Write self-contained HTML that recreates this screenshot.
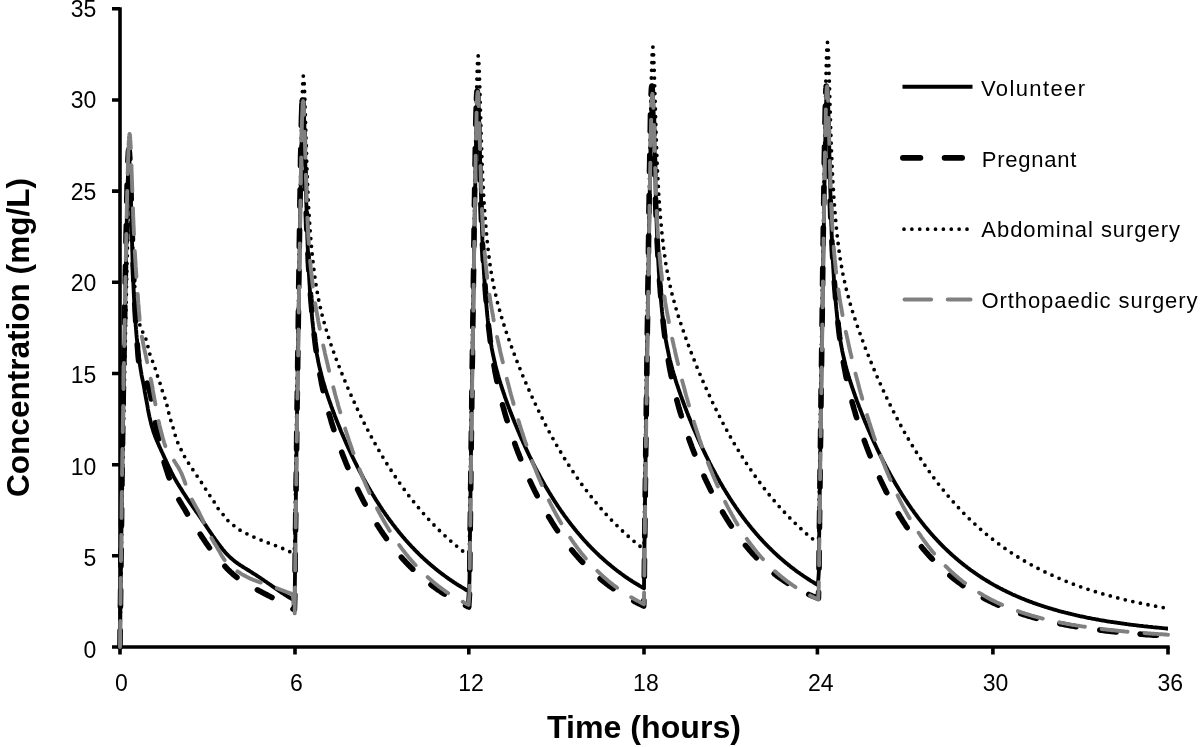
<!DOCTYPE html>
<html><head><meta charset="utf-8"><title>Concentration vs time</title>
<style>
html,body{margin:0;padding:0;background:#fff;}
body{width:1200px;height:747px;overflow:hidden;}
svg{display:block;}
.tl{font-family:"Liberation Sans", Arial, sans-serif;font-size:23px;fill:#000;}
.lg{font-family:"Liberation Sans", Arial, sans-serif;font-size:22px;fill:#000;}
.at{font-family:"Liberation Sans", Arial, sans-serif;font-size:31px;font-weight:bold;fill:#000;}
</style></head><body>
<svg width="1200" height="747" viewBox="0 0 1200 747">
<rect width="1200" height="747" fill="#fff"/>
<path d="M120 7.2V647H1169.7" fill="none" stroke="#000" stroke-width="3.6" stroke-linejoin="miter"/>
<path d="M112 647.0H120M112 555.8H120M112 464.7H120M112 373.5H120M112 282.3H120M112 191.1H120M112 100.0H120M112 8.8H120M120.0 647V654.6M295.0 647V654.6M468.8 647V654.6M644.0 647V654.6M817.4 647V654.6M992.9 647V654.6M1168.0 647V654.6" stroke="#000" stroke-width="3.6" fill="none"/>
<text x="96.3" y="657.6" text-anchor="end" class="tl">0</text>
<text x="96.3" y="566.1" text-anchor="end" class="tl">5</text>
<text x="96.3" y="474.5" text-anchor="end" class="tl">10</text>
<text x="96.3" y="383.0" text-anchor="end" class="tl">15</text>
<text x="96.3" y="291.4" text-anchor="end" class="tl">20</text>
<text x="96.3" y="199.9" text-anchor="end" class="tl">25</text>
<text x="96.3" y="108.4" text-anchor="end" class="tl">30</text>
<text x="96.3" y="16.8" text-anchor="end" class="tl">35</text>
<text x="121.5" y="690.6" text-anchor="middle" class="tl">0</text>
<text x="296.3" y="690.6" text-anchor="middle" class="tl">6</text>
<text x="471.1" y="690.6" text-anchor="middle" class="tl">12</text>
<text x="645.9" y="690.6" text-anchor="middle" class="tl">18</text>
<text x="820.7" y="690.6" text-anchor="middle" class="tl">24</text>
<text x="995.5" y="690.6" text-anchor="middle" class="tl">30</text>
<text x="1170.3" y="690.6" text-anchor="middle" class="tl">36</text>
<path d="M120.0 647.0L120.1 634.5L120.3 622.0L120.4 609.5L120.6 596.9L120.7 584.4L120.9 572.8L121.0 561.5L121.2 550.2L121.3 538.8L121.5 527.5L121.6 516.7L121.7 506.4L121.9 495.5L122.0 485.0L122.2 475.0L122.3 465.6L122.5 456.9L122.6 448.4L122.8 440.2L122.9 432.2L123.1 424.4L123.2 416.9L123.3 409.5L123.5 402.2L123.6 394.1L123.8 386.0L123.9 377.8L124.1 369.7L124.2 361.5L124.4 353.3L124.5 345.2L124.7 337.0L124.8 328.9L124.9 320.7L125.1 312.5L125.2 304.4L125.4 296.3L125.5 288.2L125.7 280.1L125.8 272.1L126.0 264.2L126.1 256.3L126.3 248.5L126.4 240.9L126.5 233.3L126.7 226.0L126.8 218.9L127.0 212.0L127.1 205.3L127.3 199.0L127.4 193.0L127.6 187.4L127.7 182.2L127.9 177.5L128.0 173.2L128.2 169.5L128.3 166.3L128.4 163.6L128.6 161.5L128.7 160.1L129.0 158.9L129.3 160.2L129.5 161.7L129.6 163.7L129.8 166.2L129.9 169.3L130.0 172.7L130.2 176.6L130.3 180.9L130.5 185.4L130.6 190.3L130.8 195.3L130.9 200.5L131.1 205.9L131.2 211.4L131.4 216.9L131.5 222.4L131.6 227.9L131.8 233.3L131.9 238.6L132.1 243.8L132.2 248.9L132.4 253.9L132.5 258.7L132.7 263.3L132.8 267.8L133.0 272.0L133.1 276.1L133.2 280.0L133.4 283.8L133.5 287.4L133.7 290.8L133.8 294.0L134.0 297.1L134.1 300.1L134.3 302.9L134.4 305.6L134.6 308.2L134.7 310.7L134.8 313.1L135.0 315.4L135.1 317.6L135.3 319.7L135.4 321.7L135.6 323.7L135.7 325.6L135.9 327.4L136.0 329.2L136.2 330.9L136.3 332.6L136.4 334.2L136.6 335.8L136.7 337.4L136.9 338.9L137.0 340.3L137.2 341.8L137.3 343.1L137.5 344.5L137.6 346.0L137.8 347.4L137.9 348.8L138.0 350.1L138.2 351.4L138.3 352.7L138.5 353.9L138.6 355.2L138.8 356.4L138.9 357.5L139.1 358.7L139.2 359.8L139.4 360.9L139.5 361.9L139.8 364.0L140.1 366.0L140.4 367.9L140.7 369.8L141.0 371.5L141.3 373.2L141.5 374.8L141.8 376.3L142.1 377.7L142.4 379.1L142.7 380.5L143.0 381.9L143.3 383.4L143.6 384.9L143.9 386.5L144.2 388.1L144.5 389.7L144.7 391.3L145.0 392.9L145.3 394.5L145.6 396.2L145.9 397.8L146.2 399.4L146.5 400.9L146.8 402.6L147.1 404.2L147.4 405.8L147.7 407.5L147.9 409.1L148.2 410.7L148.5 412.2L148.8 413.7L149.1 415.1L149.4 416.6L149.7 417.8L150.0 419.1L150.3 420.3L150.6 421.5L150.9 422.7L151.1 423.8L151.4 424.9L151.7 426.0L152.0 427.0L152.3 428.0L152.6 429.0L152.9 429.9L153.2 430.9L153.6 432.2L154.1 433.5L154.5 434.7L154.9 435.9L155.4 437.0L155.8 438.1L156.2 439.2L156.7 440.2L157.1 441.2L157.6 442.2L158.0 443.2L158.4 444.2L158.9 445.2L159.3 446.2L159.7 447.1L160.2 448.1L160.6 449.1L161.0 450.1L161.5 451.1L161.9 452.0L162.4 453.0L162.8 453.9L163.2 454.9L163.7 455.8L164.1 456.7L164.5 457.7L165.0 458.6L165.4 459.5L165.8 460.5L166.3 461.4L166.7 462.4L167.2 463.3L167.6 464.3L168.0 465.2L168.5 466.1L168.9 467.1L169.3 468.0L169.8 468.9L170.2 469.8L170.7 470.7L171.1 471.6L171.5 472.5L172.0 473.3L172.4 474.2L172.8 475.0L173.3 475.8L173.7 476.6L174.1 477.4L174.6 478.2L175.0 478.9L175.5 479.7L176.0 480.7L176.6 481.7L177.2 482.7L177.8 483.7L178.4 484.6L178.9 485.6L179.5 486.5L180.1 487.5L180.7 488.4L181.3 489.3L181.9 490.3L182.4 491.2L183.0 492.1L183.6 493.0L184.2 493.9L184.8 494.8L185.4 495.7L185.9 496.6L186.5 497.5L187.1 498.4L187.7 499.2L188.3 500.1L188.8 501.0L189.4 501.8L190.0 502.7L190.6 503.5L191.2 504.4L191.8 505.2L192.3 506.0L192.9 506.8L193.5 507.7L194.1 508.5L194.7 509.3L195.3 510.1L195.8 511.0L196.4 511.8L197.0 512.6L197.6 513.4L198.2 514.3L198.7 515.1L199.3 515.9L199.9 516.8L200.5 517.6L201.1 518.5L201.7 519.3L202.2 520.2L202.8 521.1L203.4 522.0L204.0 522.8L204.6 523.7L205.1 524.6L205.7 525.4L206.3 526.3L206.9 527.2L207.5 528.1L208.1 528.9L208.6 529.8L209.2 530.7L209.8 531.5L210.4 532.4L211.0 533.2L211.6 534.1L212.1 534.9L212.7 535.8L213.3 536.6L213.9 537.4L214.5 538.3L215.0 539.1L215.6 539.9L216.2 540.7L216.8 541.5L217.4 542.3L218.0 543.1L218.5 543.9L219.1 544.6L219.7 545.4L220.3 546.2L220.9 546.9L221.5 547.7L222.0 548.4L222.6 549.2L223.2 549.9L223.8 550.6L224.4 551.3L224.9 552.0L225.5 552.7L226.1 553.3L226.7 553.9L227.4 554.7L228.1 555.4L228.9 556.1L229.6 556.8L230.3 557.5L231.1 558.2L231.8 558.8L232.5 559.4L233.2 560.0L234.0 560.6L234.7 561.2L235.4 561.8L236.2 562.3L236.9 562.9L237.6 563.4L238.3 563.9L239.1 564.4L239.8 564.9L240.5 565.4L241.4 565.9L242.3 566.5L243.1 567.0L244.0 567.6L244.9 568.1L245.8 568.6L246.6 569.2L247.5 569.7L248.4 570.3L249.3 570.8L250.1 571.4L251.0 571.9L251.9 572.5L252.7 573.0L253.6 573.6L254.5 574.1L255.4 574.7L256.2 575.2L257.1 575.8L258.0 576.4L258.7 576.8L259.4 577.3L260.2 577.8L260.9 578.3L261.6 578.8L262.4 579.3L263.1 579.8L263.8 580.3L264.5 580.8L265.3 581.3L266.0 581.8L266.7 582.3L267.4 582.8L268.2 583.3L268.9 583.8L269.6 584.3L270.4 584.8L271.1 585.3L271.8 585.9L272.5 586.4L273.3 586.9L274.0 587.4L274.7 587.9L275.5 588.4L276.2 588.9L276.9 589.4L277.6 589.9L278.4 590.4L279.1 590.9L279.8 591.4L280.5 591.9L281.3 592.4L282.0 592.9L282.7 593.4L283.5 593.8L284.2 594.3L285.1 594.9L285.9 595.4L286.8 596.0L287.7 596.5L288.6 597.0L289.4 597.5L290.3 598.0L291.2 598.5L292.0 599.0L292.9 599.6L293.8 600.1L294.7 600.6L294.8 587.8L295.0 575.0L295.1 562.3L295.2 549.5L295.4 536.7L295.5 524.9L295.7 513.3L295.8 501.7L296.0 490.2L296.1 478.6L296.3 467.6L296.4 457.1L296.6 446.7L296.7 436.6L296.8 426.5L297.0 416.9L297.1 407.6L297.3 398.4L297.4 389.2L297.6 380.1L297.7 371.0L297.9 362.1L298.0 353.1L298.2 344.1L298.3 334.7L298.5 325.5L298.6 316.2L298.7 307.0L298.9 297.8L299.0 288.7L299.2 279.6L299.3 270.5L299.5 261.4L299.6 252.4L299.8 243.4L299.9 234.4L300.1 225.5L300.2 216.6L300.3 207.8L300.5 199.2L300.6 190.6L300.8 182.2L300.9 174.0L301.1 166.0L301.2 158.3L301.4 150.9L301.5 143.9L301.7 137.3L301.8 131.2L301.9 125.5L302.1 120.4L302.2 115.9L302.4 112.1L302.5 108.8L302.7 106.3L302.8 104.5L303.0 103.4L303.4 104.3L303.5 105.9L303.7 108.3L303.8 111.2L304.0 114.6L304.1 118.6L304.3 123.0L304.4 127.9L304.6 133.0L304.7 138.5L304.9 144.2L305.0 150.0L305.1 156.0L305.3 162.0L305.4 168.1L305.6 174.2L305.7 180.2L305.9 186.1L306.0 191.9L306.2 197.6L306.3 203.1L306.5 208.4L306.6 213.6L306.7 218.6L306.9 223.5L307.0 228.1L307.2 232.5L307.3 236.8L307.5 240.9L307.6 244.9L307.8 248.6L307.9 252.2L308.1 255.7L308.2 259.1L308.3 262.3L308.5 265.3L308.6 268.3L308.8 271.2L308.9 273.9L309.1 276.6L309.2 279.1L309.4 281.6L309.5 284.0L309.7 286.4L309.8 288.6L309.9 290.8L310.1 293.0L310.2 295.1L310.4 297.1L310.5 299.1L310.7 301.0L310.8 302.9L311.0 304.7L311.1 306.5L311.3 308.2L311.4 309.9L311.6 311.6L311.7 313.2L311.8 314.8L312.0 316.3L312.1 317.8L312.3 319.4L312.4 320.9L312.6 322.3L312.7 323.8L312.9 325.2L313.0 326.5L313.2 327.9L313.3 329.2L313.4 330.5L313.6 331.7L313.7 332.9L313.9 334.1L314.0 335.3L314.2 336.5L314.3 337.6L314.5 338.7L314.6 339.8L314.8 340.9L315.0 342.9L315.3 344.9L315.6 346.8L315.9 348.7L316.2 350.5L316.5 352.2L316.8 353.9L317.1 355.4L317.4 357.0L317.7 358.5L318.0 359.9L318.2 361.4L318.5 362.8L318.8 364.1L319.1 365.5L319.4 366.7L319.7 368.0L320.0 369.2L320.3 370.5L320.6 371.7L320.9 372.8L321.2 374.0L321.4 375.1L321.7 376.2L322.0 377.3L322.3 378.4L322.6 379.4L322.9 380.5L323.2 381.5L323.5 382.5L323.8 383.5L324.1 384.5L324.4 385.5L324.7 386.5L324.9 387.4L325.2 388.4L325.5 389.3L325.8 390.2L326.1 391.1L326.4 392.0L326.8 393.4L327.3 394.7L327.7 396.0L328.1 397.3L328.6 398.6L329.0 399.9L329.5 401.1L329.9 402.4L330.3 403.6L330.8 404.8L331.2 406.1L331.6 407.3L332.1 408.4L332.5 409.6L332.9 410.8L333.4 412.0L333.8 413.1L334.3 414.3L334.7 415.4L335.1 416.5L335.6 417.7L336.0 418.8L336.4 419.9L336.9 421.0L337.3 422.1L337.8 423.2L338.2 424.3L338.6 425.4L339.1 426.4L339.5 427.5L339.9 428.6L340.4 429.6L340.8 430.7L341.2 431.7L341.7 432.8L342.1 433.8L342.6 434.8L343.0 435.8L343.4 436.8L343.9 437.9L344.3 438.9L344.7 439.9L345.2 440.9L345.6 441.8L346.0 442.8L346.5 443.8L346.9 444.8L347.4 445.8L347.8 446.7L348.2 447.7L348.7 448.6L349.1 449.6L349.5 450.5L350.0 451.5L350.4 452.4L350.9 453.3L351.3 454.3L351.7 455.2L352.2 456.1L352.6 457.0L353.0 457.9L353.5 458.8L353.9 459.7L354.3 460.6L354.8 461.5L355.2 462.4L355.7 463.3L356.1 464.2L356.5 465.0L357.0 465.9L357.4 466.8L357.8 467.6L358.3 468.5L358.7 469.3L359.1 470.2L359.6 471.0L360.0 471.8L360.5 472.7L360.9 473.5L361.3 474.3L361.8 475.2L362.2 476.0L362.6 476.8L363.1 477.6L363.5 478.4L364.0 479.2L364.4 480.0L364.8 480.8L365.3 481.6L365.7 482.4L366.1 483.2L366.6 483.9L367.0 484.7L367.4 485.5L367.9 486.2L368.5 487.3L369.0 488.3L369.6 489.3L370.2 490.3L370.8 491.3L371.4 492.2L372.0 493.2L372.5 494.2L373.1 495.1L373.7 496.1L374.3 497.1L374.9 498.0L375.4 498.9L376.0 499.9L376.6 500.8L377.2 501.7L377.8 502.6L378.4 503.5L378.9 504.4L379.5 505.3L380.1 506.2L380.7 507.1L381.3 508.0L381.9 508.9L382.4 509.7L383.0 510.6L383.6 511.4L384.2 512.3L384.8 513.1L385.3 514.0L385.9 514.8L386.5 515.6L387.1 516.4L387.7 517.3L388.3 518.1L388.8 518.9L389.4 519.7L390.0 520.5L390.6 521.3L391.2 522.0L391.8 522.8L392.3 523.6L392.9 524.4L393.5 525.1L394.1 525.9L394.7 526.6L395.2 527.4L395.8 528.1L396.4 528.9L397.0 529.6L397.6 530.3L398.2 531.1L398.7 531.8L399.3 532.5L399.9 533.2L400.5 533.9L401.1 534.6L401.6 535.3L402.2 536.0L402.8 536.7L403.4 537.4L404.0 538.0L404.6 538.7L405.1 539.4L405.7 540.1L406.3 540.7L406.9 541.4L407.5 542.0L408.1 542.7L408.6 543.3L409.2 544.0L409.8 544.6L410.4 545.2L411.0 545.8L411.5 546.5L412.1 547.1L412.9 547.8L413.6 548.6L414.3 549.4L415.0 550.1L415.8 550.9L416.5 551.6L417.2 552.3L418.0 553.0L418.7 553.8L419.4 554.5L420.1 555.2L420.9 555.9L421.6 556.6L422.3 557.3L423.0 557.9L423.8 558.6L424.5 559.3L425.2 560.0L426.0 560.6L426.7 561.3L427.4 561.9L428.1 562.6L428.9 563.2L429.6 563.8L430.3 564.5L431.1 565.1L431.8 565.7L432.5 566.3L433.2 566.9L434.0 567.5L434.7 568.1L435.4 568.7L436.1 569.3L436.9 569.9L437.6 570.5L438.3 571.1L439.1 571.6L439.8 572.2L440.5 572.8L441.2 573.3L442.0 573.9L442.7 574.4L443.4 574.9L444.2 575.5L444.9 576.0L445.6 576.5L446.3 577.1L447.1 577.6L447.8 578.1L448.5 578.6L449.2 579.1L450.0 579.6L450.7 580.1L451.4 580.6L452.2 581.1L452.9 581.6L453.6 582.1L454.3 582.6L455.1 583.0L455.9 583.6L456.8 584.2L457.7 584.7L458.6 585.3L459.4 585.8L460.3 586.3L461.2 586.9L462.1 587.4L462.9 587.9L463.8 588.4L464.7 589.0L465.5 589.5L466.4 590.0L467.3 590.5L468.2 591.0L469.0 591.4L469.5 578.8L469.6 566.0L469.8 553.3L469.9 540.5L470.1 527.7L470.2 515.9L470.4 504.3L470.5 492.7L470.6 481.2L470.8 469.6L470.9 458.6L471.1 448.1L471.2 437.7L471.4 427.5L471.5 417.5L471.7 407.8L471.8 398.6L472.0 389.4L472.1 380.2L472.2 371.1L472.4 362.0L472.5 353.0L472.7 344.0L472.8 335.0L473.0 325.7L473.1 316.4L473.3 307.2L473.4 297.9L473.6 288.8L473.7 279.6L473.8 270.5L474.0 261.4L474.1 252.3L474.3 243.3L474.4 234.3L474.6 225.3L474.7 216.4L474.9 207.5L475.0 198.7L475.2 190.0L475.3 181.5L475.4 173.1L475.6 164.8L475.7 156.9L475.9 149.2L476.0 141.8L476.2 134.8L476.3 128.2L476.5 122.0L476.6 116.4L476.8 111.3L476.9 106.8L477.0 102.9L477.2 99.7L477.3 97.2L477.5 95.4L477.6 94.3L478.1 95.2L478.2 96.9L478.4 99.2L478.5 102.2L478.6 105.7L478.8 109.7L478.9 114.1L479.1 119.0L479.2 124.2L479.4 129.7L479.5 135.4L479.7 141.3L479.8 147.3L480.0 153.3L480.1 159.4L480.2 165.5L480.4 171.6L480.5 177.5L480.7 183.3L480.8 189.0L481.0 194.6L481.1 200.0L481.3 205.2L481.4 210.2L481.6 215.1L481.7 219.7L481.8 224.2L482.0 228.5L482.1 232.6L482.3 236.6L482.4 240.4L482.6 244.0L482.7 247.5L482.9 250.9L483.0 254.1L483.2 257.2L483.3 260.2L483.5 263.1L483.6 265.8L483.7 268.5L483.9 271.1L484.0 273.6L484.2 276.0L484.3 278.4L484.5 280.7L484.6 282.9L484.8 285.0L484.9 287.1L485.1 289.2L485.2 291.2L485.3 293.1L485.5 295.0L485.6 296.8L485.8 298.6L485.9 300.4L486.1 302.1L486.2 303.8L486.4 305.4L486.5 307.0L486.7 308.6L486.8 310.1L486.9 311.6L487.1 313.1L487.2 314.6L487.4 316.1L487.5 317.5L487.7 318.8L487.8 320.2L488.0 321.5L488.1 322.8L488.3 324.1L488.4 325.3L488.5 326.5L488.7 327.7L488.8 328.9L489.0 330.0L489.1 331.1L489.3 332.2L489.4 333.3L489.7 335.4L490.0 337.4L490.3 339.4L490.6 341.2L490.9 343.1L491.2 344.8L491.5 346.5L491.7 348.1L492.0 349.6L492.3 351.1L492.6 352.6L492.9 354.1L493.2 355.5L493.5 356.8L493.8 358.2L494.1 359.5L494.4 360.8L494.7 362.0L494.9 363.3L495.2 364.5L495.5 365.7L495.8 366.8L496.1 368.0L496.4 369.1L496.7 370.2L497.0 371.3L497.3 372.4L497.6 373.4L497.9 374.5L498.2 375.5L498.4 376.5L498.7 377.5L499.0 378.5L499.3 379.5L499.6 380.5L499.9 381.4L500.2 382.4L500.5 383.3L500.8 384.3L501.1 385.2L501.4 386.1L501.6 387.0L502.1 388.3L502.5 389.7L503.0 391.0L503.4 392.3L503.8 393.6L504.3 394.8L504.7 396.1L505.1 397.4L505.6 398.6L506.0 399.8L506.4 401.0L506.9 402.3L507.3 403.5L507.8 404.7L508.2 405.8L508.6 407.0L509.1 408.2L509.5 409.3L509.9 410.5L510.4 411.6L510.8 412.8L511.3 413.9L511.7 415.0L512.1 416.1L512.6 417.2L513.0 418.3L513.4 419.4L513.9 420.5L514.3 421.6L514.7 422.7L515.2 423.8L515.6 424.8L516.1 425.9L516.5 426.9L516.9 428.0L517.4 429.0L517.8 430.1L518.2 431.1L518.7 432.1L519.1 433.1L519.5 434.2L520.0 435.2L520.4 436.2L520.9 437.2L521.3 438.2L521.7 439.2L522.2 440.1L522.6 441.1L523.0 442.1L523.5 443.1L523.9 444.0L524.4 445.0L524.8 446.0L525.2 446.9L525.7 447.9L526.1 448.8L526.5 449.7L527.0 450.7L527.4 451.6L527.8 452.5L528.3 453.4L528.7 454.3L529.2 455.3L529.6 456.2L530.0 457.1L530.5 457.9L530.9 458.8L531.3 459.7L531.8 460.6L532.2 461.5L532.6 462.4L533.1 463.2L533.5 464.1L534.0 465.0L534.4 465.8L534.8 466.7L535.3 467.5L535.7 468.4L536.1 469.2L536.6 470.0L537.0 470.9L537.5 471.7L537.9 472.5L538.3 473.3L538.8 474.1L539.2 474.9L539.6 475.8L540.1 476.6L540.5 477.4L540.9 478.2L541.4 478.9L541.8 479.7L542.3 480.5L542.7 481.3L543.1 482.1L543.6 482.8L544.0 483.6L544.4 484.4L545.0 485.4L545.6 486.4L546.2 487.4L546.8 488.4L547.3 489.4L547.9 490.3L548.5 491.3L549.1 492.3L549.7 493.2L550.3 494.2L550.8 495.1L551.4 496.1L552.0 497.0L552.6 497.9L553.2 498.9L553.8 499.8L554.3 500.7L554.9 501.6L555.5 502.5L556.1 503.4L556.7 504.3L557.2 505.2L557.8 506.0L558.4 506.9L559.0 507.8L559.6 508.6L560.2 509.5L560.7 510.3L561.3 511.2L561.9 512.0L562.5 512.8L563.1 513.6L563.7 514.5L564.2 515.3L564.8 516.1L565.4 516.9L566.0 517.7L566.6 518.5L567.1 519.3L567.7 520.0L568.3 520.8L568.9 521.6L569.5 522.4L570.1 523.1L570.6 523.9L571.2 524.6L571.8 525.4L572.4 526.1L573.0 526.9L573.5 527.6L574.1 528.3L574.7 529.0L575.3 529.8L575.9 530.5L576.5 531.2L577.0 531.9L577.6 532.6L578.2 533.3L578.8 534.0L579.4 534.6L580.0 535.3L580.5 536.0L581.1 536.7L581.7 537.3L582.3 538.0L582.9 538.7L583.4 539.3L584.0 540.0L584.6 540.6L585.2 541.3L585.8 541.9L586.4 542.5L586.9 543.1L587.5 543.8L588.1 544.4L588.8 545.2L589.6 545.9L590.3 546.7L591.0 547.4L591.7 548.2L592.5 548.9L593.2 549.7L593.9 550.4L594.7 551.1L595.4 551.8L596.1 552.5L596.8 553.2L597.6 553.9L598.3 554.6L599.0 555.3L599.7 556.0L600.5 556.7L601.2 557.3L601.9 558.0L602.7 558.6L603.4 559.3L604.1 559.9L604.8 560.6L605.6 561.2L606.3 561.9L607.0 562.5L607.8 563.1L608.5 563.7L609.2 564.3L609.9 564.9L610.7 565.5L611.4 566.1L612.1 566.7L612.8 567.3L613.6 567.9L614.3 568.5L615.0 569.0L615.8 569.6L616.5 570.2L617.2 570.7L617.9 571.3L618.7 571.8L619.4 572.4L620.1 572.9L620.9 573.5L621.6 574.0L622.3 574.5L623.0 575.0L623.8 575.6L624.5 576.1L625.2 576.6L625.9 577.1L626.7 577.6L627.4 578.1L628.1 578.6L628.9 579.1L629.6 579.6L630.3 580.0L631.0 580.5L631.8 581.0L632.6 581.6L633.5 582.1L634.4 582.7L635.3 583.2L636.1 583.7L637.0 584.3L637.9 584.8L638.8 585.3L639.6 585.9L640.5 586.4L641.4 586.9L642.3 587.4L643.1 587.9L644.0 588.4L644.1 575.6L644.3 562.9L644.4 550.2L644.6 537.4L644.7 524.7L644.9 512.9L645.0 501.3L645.2 489.8L645.3 478.3L645.5 466.7L645.6 455.8L645.7 445.3L645.9 434.9L646.0 424.8L646.2 414.8L646.3 405.1L646.5 395.9L646.6 386.7L646.8 377.6L646.9 368.5L647.1 359.4L647.2 350.5L647.3 341.5L647.5 332.5L647.6 323.2L647.8 314.0L647.9 304.7L648.1 295.6L648.2 286.4L648.4 277.3L648.5 268.2L648.7 259.2L648.8 250.1L648.9 241.1L649.1 232.1L649.2 223.2L649.4 214.3L649.5 205.4L649.7 196.7L649.8 188.0L650.0 179.5L650.1 171.1L650.3 162.9L650.4 155.0L650.5 147.3L650.7 139.9L650.8 132.9L651.0 126.4L651.1 120.2L651.3 114.6L651.4 109.5L651.6 105.0L651.7 101.1L651.9 97.9L652.0 95.4L652.1 93.5L652.3 92.4L652.7 93.3L652.9 94.9L653.0 97.2L653.2 100.1L653.3 103.5L653.5 107.4L653.6 111.8L653.8 116.6L653.9 121.7L654.0 127.1L654.2 132.8L654.3 138.6L654.5 144.5L654.6 150.5L654.8 156.5L654.9 162.5L655.1 168.5L655.2 174.4L655.4 180.1L655.5 185.8L655.6 191.3L655.8 196.6L655.9 201.7L656.1 206.7L656.2 211.5L656.4 216.1L656.5 220.5L656.7 224.8L656.8 228.9L657.0 232.8L657.1 236.5L657.2 240.1L657.4 243.6L657.5 246.9L657.7 250.1L657.8 253.1L658.0 256.1L658.1 258.9L658.3 261.7L658.4 264.3L658.6 266.9L658.7 269.4L658.8 271.8L659.0 274.1L659.1 276.3L659.3 278.5L659.4 280.7L659.6 282.7L659.7 284.8L659.9 286.7L660.0 288.6L660.2 290.5L660.3 292.3L660.4 294.1L660.6 295.9L660.7 297.6L660.9 299.2L661.0 300.8L661.2 302.4L661.3 304.0L661.5 305.5L661.6 307.0L661.8 308.5L661.9 310.0L662.0 311.4L662.2 312.8L662.3 314.2L662.5 315.5L662.6 316.8L662.8 318.1L662.9 319.4L663.1 320.6L663.2 321.8L663.4 323.0L663.5 324.1L663.6 325.3L663.8 326.4L663.9 327.5L664.1 328.6L664.4 330.6L664.7 332.6L665.0 334.6L665.2 336.4L665.5 338.2L665.8 340.0L666.1 341.6L666.4 343.2L666.7 344.8L667.0 346.3L667.3 347.8L667.6 349.2L667.9 350.6L668.2 352.0L668.5 353.4L668.7 354.7L669.0 356.0L669.3 357.2L669.6 358.4L669.9 359.7L670.2 360.8L670.5 362.0L670.8 363.2L671.1 364.3L671.4 365.4L671.7 366.5L671.9 367.6L672.2 368.6L672.5 369.7L672.8 370.7L673.1 371.7L673.4 372.8L673.7 373.7L674.0 374.7L674.3 375.7L674.6 376.7L674.9 377.6L675.1 378.6L675.4 379.5L675.7 380.4L676.0 381.4L676.3 382.3L676.7 383.6L677.2 385.0L677.6 386.3L678.1 387.6L678.5 388.9L678.9 390.2L679.4 391.4L679.8 392.7L680.2 393.9L680.7 395.2L681.1 396.4L681.6 397.6L682.0 398.8L682.4 400.0L682.9 401.2L683.3 402.4L683.7 403.6L684.2 404.8L684.6 405.9L685.0 407.1L685.5 408.2L685.9 409.4L686.4 410.5L686.8 411.6L687.2 412.7L687.7 413.8L688.1 414.9L688.5 416.0L689.0 417.1L689.4 418.2L689.8 419.3L690.3 420.4L690.7 421.4L691.2 422.5L691.6 423.6L692.0 424.6L692.5 425.7L692.9 426.7L693.3 427.7L693.8 428.8L694.2 429.8L694.7 430.8L695.1 431.8L695.5 432.8L696.0 433.8L696.4 434.8L696.8 435.8L697.3 436.8L697.7 437.8L698.1 438.8L698.6 439.7L699.0 440.7L699.5 441.7L699.9 442.6L700.3 443.6L700.8 444.5L701.2 445.5L701.6 446.4L702.1 447.4L702.5 448.3L702.9 449.2L703.4 450.1L703.8 451.1L704.3 452.0L704.7 452.9L705.1 453.8L705.6 454.7L706.0 455.6L706.4 456.5L706.9 457.3L707.3 458.2L707.8 459.1L708.2 460.0L708.6 460.8L709.1 461.7L709.5 462.6L709.9 463.4L710.4 464.3L710.8 465.1L711.2 466.0L711.7 466.8L712.1 467.6L712.6 468.5L713.0 469.3L713.4 470.1L713.9 470.9L714.3 471.7L714.7 472.5L715.2 473.3L715.6 474.1L716.0 474.9L716.5 475.7L716.9 476.5L717.4 477.3L717.8 478.1L718.2 478.9L718.7 479.6L719.1 480.4L719.5 481.2L720.1 482.2L720.7 483.2L721.3 484.2L721.9 485.2L722.5 486.2L723.0 487.2L723.6 488.2L724.2 489.1L724.8 490.1L725.4 491.0L725.9 492.0L726.5 492.9L727.1 493.9L727.7 494.8L728.3 495.7L728.9 496.7L729.4 497.6L730.0 498.5L730.6 499.4L731.2 500.3L731.8 501.2L732.3 502.0L732.9 502.9L733.5 503.8L734.1 504.7L734.7 505.5L735.3 506.4L735.8 507.2L736.4 508.1L737.0 508.9L737.6 509.7L738.2 510.6L738.8 511.4L739.3 512.2L739.9 513.0L740.5 513.8L741.1 514.6L741.7 515.4L742.2 516.2L742.8 517.0L743.4 517.8L744.0 518.6L744.6 519.3L745.2 520.1L745.7 520.8L746.3 521.6L746.9 522.4L747.5 523.1L748.1 523.8L748.7 524.6L749.2 525.3L749.8 526.0L750.4 526.7L751.0 527.5L751.6 528.2L752.1 528.9L752.7 529.6L753.3 530.3L753.9 531.0L754.5 531.7L755.1 532.3L755.6 533.0L756.2 533.7L756.8 534.4L757.4 535.0L758.0 535.7L758.5 536.4L759.1 537.0L759.7 537.7L760.3 538.3L760.9 538.9L761.5 539.6L762.0 540.2L762.6 540.8L763.2 541.5L763.8 542.1L764.5 542.8L765.2 543.6L766.0 544.4L766.7 545.1L767.4 545.9L768.2 546.6L768.9 547.3L769.6 548.0L770.3 548.8L771.1 549.5L771.8 550.2L772.5 550.9L773.3 551.6L774.0 552.3L774.7 553.0L775.4 553.6L776.2 554.3L776.9 555.0L777.6 555.6L778.3 556.3L779.1 557.0L779.8 557.6L780.5 558.2L781.3 558.9L782.0 559.5L782.7 560.1L783.4 560.8L784.2 561.4L784.9 562.0L785.6 562.6L786.4 563.2L787.1 563.8L787.8 564.4L788.5 565.0L789.3 565.5L790.0 566.1L790.7 566.7L791.4 567.3L792.2 567.8L792.9 568.4L793.6 568.9L794.4 569.5L795.1 570.0L795.8 570.6L796.5 571.1L797.3 571.6L798.0 572.2L798.7 572.7L799.5 573.2L800.2 573.7L800.9 574.2L801.6 574.7L802.4 575.2L803.1 575.7L803.8 576.2L804.5 576.7L805.3 577.2L806.0 577.7L806.7 578.1L807.5 578.6L808.3 579.2L809.2 579.7L810.1 580.3L810.9 580.8L811.8 581.4L812.7 581.9L813.6 582.4L814.4 583.0L815.3 583.5L816.2 584.0L817.1 584.5L817.9 585.0L818.8 572.7L819.0 559.9L819.1 547.2L819.2 534.4L819.4 521.6L819.5 509.8L819.7 498.3L819.8 486.7L820.0 475.2L820.1 463.6L820.3 452.6L820.4 442.1L820.6 431.8L820.7 421.6L820.8 411.6L821.0 401.9L821.1 392.7L821.3 383.5L821.4 374.3L821.6 365.2L821.7 356.1L821.9 347.2L822.0 338.2L822.2 329.2L822.3 319.9L822.4 310.6L822.6 301.4L822.7 292.2L822.9 283.0L823.0 273.9L823.2 264.8L823.3 255.7L823.5 246.6L823.6 237.6L823.8 228.5L823.9 219.6L824.0 210.6L824.2 201.8L824.3 193.0L824.5 184.3L824.6 175.8L824.8 167.4L824.9 159.2L825.1 151.2L825.2 143.5L825.4 136.1L825.5 129.1L825.7 122.5L825.8 116.4L825.9 110.7L826.1 105.7L826.2 101.2L826.4 97.3L826.5 94.1L826.7 91.6L826.8 89.9L827.0 88.8L827.4 89.9L827.5 91.6L827.7 94.0L827.8 96.9L828.0 100.5L828.1 104.5L828.3 109.0L828.4 114.0L828.6 119.2L828.7 124.7L828.9 130.5L829.0 136.4L829.1 142.5L829.3 148.6L829.4 154.8L829.6 160.9L829.7 167.0L829.9 173.0L830.0 178.9L830.2 184.6L830.3 190.2L830.5 195.7L830.6 200.9L830.7 206.0L830.9 210.9L831.0 215.6L831.2 220.1L831.3 224.4L831.5 228.6L831.6 232.6L831.8 236.4L831.9 240.1L832.1 243.6L832.2 247.0L832.3 250.2L832.5 253.3L832.6 256.3L832.8 259.2L832.9 262.0L833.1 264.7L833.2 267.3L833.4 269.9L833.5 272.3L833.7 274.7L833.8 277.0L833.9 279.2L834.1 281.4L834.2 283.5L834.4 285.6L834.5 287.6L834.7 289.5L834.8 291.4L835.0 293.3L835.1 295.1L835.3 296.8L835.4 298.6L835.5 300.2L835.7 301.9L835.8 303.5L836.0 305.1L836.1 306.6L836.3 308.2L836.4 309.7L836.6 311.2L836.7 312.6L836.9 314.0L837.0 315.4L837.1 316.8L837.3 318.1L837.4 319.4L837.6 320.7L837.7 321.9L837.9 323.2L838.0 324.4L838.2 325.5L838.3 326.6L838.5 327.8L838.6 328.9L838.8 330.0L839.0 332.0L839.3 334.1L839.6 336.0L839.9 337.9L840.2 339.7L840.5 341.5L840.8 343.2L841.1 344.8L841.4 346.3L841.7 347.9L842.0 349.3L842.2 350.8L842.5 352.2L842.8 353.6L843.1 354.9L843.4 356.2L843.7 357.5L844.0 358.8L844.3 360.0L844.6 361.2L844.9 362.4L845.2 363.6L845.4 364.7L845.7 365.8L846.0 366.9L846.3 368.0L846.6 369.1L846.9 370.1L847.2 371.2L847.5 372.2L847.8 373.2L848.1 374.2L848.4 375.2L848.6 376.2L848.9 377.2L849.2 378.1L849.5 379.1L849.8 380.0L850.1 380.9L850.4 381.9L850.8 383.2L851.3 384.6L851.7 385.9L852.1 387.2L852.6 388.5L853.0 389.8L853.5 391.1L853.9 392.3L854.3 393.6L854.8 394.8L855.2 396.1L855.6 397.3L856.1 398.5L856.5 399.7L856.9 400.9L857.4 402.1L857.8 403.2L858.3 404.4L858.7 405.5L859.1 406.7L859.6 407.8L860.0 409.0L860.4 410.1L860.9 411.2L861.3 412.3L861.7 413.4L862.2 414.5L862.6 415.6L863.1 416.7L863.5 417.8L863.9 418.9L864.4 419.9L864.8 421.0L865.2 422.1L865.7 423.1L866.1 424.2L866.6 425.2L867.0 426.2L867.4 427.3L867.9 428.3L868.3 429.3L868.7 430.3L869.2 431.3L869.6 432.3L870.0 433.3L870.5 434.3L870.9 435.3L871.4 436.3L871.8 437.3L872.2 438.3L872.7 439.2L873.1 440.2L873.5 441.1L874.0 442.1L874.4 443.1L874.8 444.0L875.3 444.9L875.7 445.9L876.2 446.8L876.6 447.7L877.0 448.6L877.5 449.6L877.9 450.5L878.3 451.4L878.8 452.3L879.2 453.2L879.7 454.1L880.1 455.0L880.5 455.8L881.0 456.7L881.4 457.6L881.8 458.5L882.3 459.3L882.7 460.2L883.1 461.1L883.6 461.9L884.0 462.8L884.5 463.6L884.9 464.5L885.3 465.3L885.8 466.1L886.2 467.0L886.6 467.8L887.1 468.6L887.5 469.4L887.9 470.2L888.4 471.0L888.8 471.8L889.3 472.6L889.7 473.4L890.1 474.2L890.6 475.0L891.0 475.8L891.4 476.6L891.9 477.4L892.3 478.1L892.8 478.9L893.2 479.7L893.8 480.7L894.4 481.7L894.9 482.7L895.5 483.7L896.1 484.7L896.7 485.7L897.3 486.7L897.8 487.6L898.4 488.6L899.0 489.5L899.6 490.5L900.2 491.4L900.8 492.4L901.3 493.3L901.9 494.2L902.5 495.2L903.1 496.1L903.7 497.0L904.3 497.9L904.8 498.8L905.4 499.7L906.0 500.5L906.6 501.4L907.2 502.3L907.7 503.2L908.3 504.0L908.9 504.9L909.5 505.7L910.1 506.6L910.7 507.4L911.2 508.2L911.8 509.1L912.4 509.9L913.0 510.7L913.6 511.5L914.1 512.3L914.7 513.1L915.3 513.9L915.9 514.7L916.5 515.5L917.1 516.3L917.6 517.1L918.2 517.8L918.8 518.6L919.4 519.4L920.0 520.1L920.6 520.9L921.1 521.6L921.7 522.3L922.3 523.1L922.9 523.8L923.5 524.5L924.0 525.3L924.6 526.0L925.2 526.7L925.8 527.4L926.4 528.1L927.0 528.8L927.5 529.5L928.1 530.2L928.7 530.8L929.3 531.5L929.9 532.2L930.5 532.9L931.0 533.5L931.6 534.2L932.2 534.9L932.8 535.5L933.4 536.2L933.9 536.8L934.5 537.4L935.1 538.1L935.7 538.7L936.3 539.3L936.9 540.0L937.4 540.6L938.2 541.4L938.9 542.1L939.6 542.9L940.3 543.6L941.1 544.4L941.8 545.1L942.5 545.8L943.3 546.6L944.0 547.3L944.7 548.0L945.4 548.7L946.2 549.4L946.9 550.1L947.6 550.8L948.4 551.5L949.1 552.2L949.8 552.8L950.5 553.5L951.3 554.2L952.0 554.8L952.7 555.5L953.4 556.1L954.2 556.8L954.9 557.4L955.6 558.0L956.4 558.7L957.1 559.3L957.8 559.9L958.5 560.5L959.3 561.1L960.0 561.7L960.7 562.3L961.5 562.9L962.2 563.5L962.9 564.1L963.6 564.6L964.4 565.2L965.1 565.8L965.8 566.3L966.5 566.9L967.3 567.5L968.0 568.0L968.7 568.5L969.5 569.1L970.2 569.6L970.9 570.2L971.6 570.7L972.4 571.2L973.1 571.7L973.8 572.2L974.6 572.7L975.3 573.3L976.0 573.8L976.7 574.3L977.5 574.7L978.2 575.2L978.9 575.7L979.6 576.2L980.4 576.7L981.1 577.2L982.0 577.7L982.9 578.3L983.7 578.8L984.6 579.4L985.5 579.9L986.3 580.5L987.2 581.0L988.1 581.5L989.0 582.0L989.8 582.6L990.7 583.1L991.6 583.6L992.5 584.1L993.3 584.6L994.2 585.1L995.1 585.6L995.9 586.0L996.8 586.5L997.7 587.0L998.6 587.5L999.4 587.9L1000.3 588.4L1001.2 588.8L1002.1 589.3L1002.9 589.7L1003.8 590.2L1004.7 590.6L1005.6 591.0L1006.4 591.5L1007.3 591.9L1008.2 592.3L1009.0 592.7L1009.9 593.1L1010.8 593.6L1011.7 594.0L1012.5 594.4L1013.4 594.8L1014.3 595.1L1015.2 595.5L1016.0 595.9L1016.9 596.3L1017.8 596.7L1018.7 597.1L1019.5 597.4L1020.4 597.8L1021.3 598.2L1022.1 598.5L1023.0 598.9L1023.9 599.2L1024.8 599.6L1025.6 599.9L1026.5 600.3L1027.4 600.6L1028.3 600.9L1029.1 601.3L1030.0 601.6L1030.9 601.9L1031.9 602.3L1032.9 602.7L1033.9 603.1L1035.0 603.4L1036.0 603.8L1037.0 604.1L1038.0 604.5L1039.0 604.8L1040.1 605.2L1041.1 605.5L1042.1 605.9L1043.1 606.2L1044.1 606.5L1045.1 606.9L1046.2 607.2L1047.2 607.5L1048.2 607.8L1049.2 608.1L1050.2 608.4L1051.3 608.7L1052.3 609.0L1053.3 609.3L1054.3 609.6L1055.3 609.9L1056.4 610.2L1057.4 610.5L1058.4 610.8L1059.4 611.1L1060.4 611.3L1061.4 611.6L1062.5 611.9L1063.5 612.2L1064.5 612.4L1065.5 612.7L1066.5 612.9L1067.6 613.2L1068.6 613.5L1069.6 613.7L1070.6 613.9L1071.6 614.2L1072.7 614.4L1073.7 614.7L1074.7 614.9L1075.7 615.1L1076.7 615.4L1077.8 615.6L1078.8 615.8L1079.8 616.1L1080.8 616.3L1081.8 616.5L1082.8 616.7L1083.9 616.9L1084.9 617.1L1085.9 617.3L1086.9 617.6L1087.9 617.8L1089.0 618.0L1090.0 618.2L1091.0 618.4L1092.0 618.6L1093.0 618.8L1094.1 618.9L1095.1 619.1L1096.1 619.3L1097.1 619.5L1098.1 619.7L1099.1 619.9L1100.3 620.1L1101.5 620.3L1102.6 620.5L1103.8 620.7L1105.0 620.9L1106.1 621.1L1107.3 621.3L1108.5 621.5L1109.6 621.6L1110.8 621.8L1112.0 622.0L1113.1 622.2L1114.3 622.4L1115.5 622.5L1116.6 622.7L1117.8 622.9L1118.9 623.0L1120.1 623.2L1121.3 623.4L1122.4 623.5L1123.6 623.7L1124.8 623.9L1125.9 624.0L1127.1 624.2L1128.3 624.3L1129.4 624.5L1130.6 624.6L1131.8 624.8L1132.9 624.9L1134.1 625.1L1135.2 625.2L1136.4 625.3L1137.6 625.5L1138.7 625.6L1139.9 625.8L1141.1 625.9L1142.2 626.0L1143.4 626.2L1144.6 626.3L1145.7 626.4L1146.9 626.5L1148.1 626.7L1149.2 626.8L1150.4 626.9L1151.5 627.0L1152.7 627.2L1153.9 627.3L1155.0 627.4L1156.2 627.5L1157.4 627.6L1158.5 627.7L1159.7 627.8L1160.9 627.9L1162.0 628.1L1163.2 628.2L1164.4 628.3L1165.5 628.4L1166.7 628.5L1167.9 628.6L1168.0 628.6" fill="none" stroke="#000" stroke-width="3.85" stroke-linejoin="round"/>
<path d="M120.0 647.0L120.1 634.2L120.3 621.4L120.4 608.6L120.6 595.8L120.7 583.3L120.9 571.3L121.0 559.2L121.2 547.1L121.3 535.0L121.5 523.6L121.6 512.2L121.7 500.8L121.9 488.4L122.0 476.7L122.2 465.8L122.3 455.3L122.5 445.2L122.6 435.4L122.8 426.1L122.9 417.2L123.1 408.4L123.2 399.9L123.3 391.7L123.5 383.6L123.6 374.9L123.8 366.1L123.9 357.4L124.1 348.7L124.2 340.0L124.4 331.4L124.5 322.8L124.7 314.2L124.8 305.7L124.9 297.3L125.1 288.9L125.2 280.6L125.4 272.4L125.5 264.3L125.7 256.3L125.8 248.5L126.0 240.7L126.1 233.2L126.3 225.8L126.4 218.5L126.5 211.5L126.7 204.8L126.8 198.3L127.0 192.1L127.1 186.2L127.3 180.6L127.4 175.5L127.6 170.7L127.7 166.4L127.9 162.5L128.0 159.0L128.2 156.1M128.2 156.1L128.3 153.7L128.4 151.8L128.6 150.4L128.9 149.2L129.3 151.3L129.5 153.0L129.6 155.1L129.8 157.7L129.9 160.7L130.0 164.0L130.2 167.6L130.3 171.6L130.5 175.8L130.6 180.2L130.8 184.8L130.9 189.5L131.1 194.3L131.2 199.3L131.4 204.3L131.5 209.3L131.6 214.3L131.8 219.2L131.9 224.2L132.1 229.0L132.2 233.8L132.4 238.6L132.5 243.2L132.7 247.7L132.8 252.2L133.0 256.5L133.1 260.7L133.2 264.8L133.4 268.9L133.5 272.8L133.7 276.6L133.8 280.4L134.0 284.0L134.1 287.5L134.3 291.0L134.4 294.4L134.6 297.7L134.7 300.9L134.8 304.0L135.0 307.1L135.1 310.1L135.3 313.0L135.4 315.8L135.6 318.6L135.7 321.2L135.9 323.8L136.0 326.3L136.2 328.8L136.3 331.1L136.4 333.4L136.6 335.6L136.7 337.7L136.9 339.8L137.0 341.7L137.2 343.6L137.3 345.4L137.5 347.1L137.6 349.2L137.8 351.2L137.9 353.1L138.0 354.9L138.2 356.5L138.3 358.0L138.5 359.3L138.6 360.6L138.8 361.7L139.1 363.7L139.4 365.4L139.6 366.8L139.9 367.9L140.2 368.8L140.7 369.9L141.1 370.7L141.7 371.6L142.3 372.3L142.9 373.2L143.4 374.3L143.9 375.1L144.3 376.1L144.7 377.0L145.2 378.1L145.6 379.1L146.1 380.2L146.5 381.4L146.9 382.5L147.4 383.8L147.8 385.1L148.2 386.4L148.5 387.4L148.8 388.4L149.1 389.3L149.4 390.4L149.7 391.5L150.0 392.7L150.3 393.9L150.6 395.2L150.9 396.6L151.1 398.1L151.4 399.6L151.7 401.1L152.0 402.7L152.3 404.3L152.6 406.0L152.9 407.6L153.2 409.3L153.5 411.0L153.8 412.8L154.1 414.5L154.4 416.2L154.6 417.9L154.9 419.6L155.2 421.2L155.5 422.9L155.8 424.5L156.1 426.1L156.4 427.6L156.7 429.1L157.0 430.5L157.3 431.9L157.6 433.3L157.8 434.7L158.1 436.1L158.4 437.5L158.7 438.9L159.0 440.3L159.3 441.6L159.6 443.0L159.9 444.3L160.2 445.6L160.5 447.0L160.8 448.3L161.0 449.6L161.3 450.8L161.6 452.1L161.9 453.3L162.2 454.6L162.5 455.8L162.8 457.0L163.1 458.1L163.4 459.3L163.7 460.4L164.0 461.5L164.2 462.6L164.5 463.6L164.8 464.6L165.1 465.5L165.4 466.5L165.7 467.4L166.0 468.3L166.3 469.2L166.7 470.6L167.2 471.9L167.6 473.3L168.0 474.6L168.5 475.8L168.9 477.1L169.3 478.3L169.8 479.5L170.2 480.7L170.7 481.8L171.1 482.9L171.5 484.0L172.0 485.0L172.4 486.1L172.8 487.1L173.3 488.1L173.7 489.1L174.1 490.0L174.6 491.0L175.0 491.9L175.5 492.9L175.9 493.8L176.3 494.7L176.8 495.6L177.2 496.4L177.6 497.3L178.1 498.1L178.5 499.0L178.9 499.8L179.4 500.6L179.8 501.3L180.4 502.3L181.0 503.3L181.6 504.3L182.2 505.2L182.7 506.1L183.3 507.1L183.9 508.0L184.5 509.0L185.1 510.0L185.6 511.0L186.2 512.0L186.8 513.0L187.4 514.0L188.0 514.9L188.6 515.9L189.1 516.9L189.7 517.8L190.3 518.8L190.9 519.7L191.5 520.6L192.0 521.6L192.6 522.5L193.2 523.4L193.8 524.3L194.4 525.2L195.0 526.1L195.5 527.0L196.1 527.9L196.7 528.8L197.3 529.7L197.9 530.6L198.5 531.5L199.0 532.4L199.6 533.2L200.2 534.1L200.8 535.0L201.4 535.9L201.9 536.8L202.5 537.6L203.1 538.5L203.7 539.4L204.3 540.3L204.9 541.2L205.4 542.0L206.0 542.9L206.6 543.8L207.2 544.6L207.8 545.4L208.4 546.3L208.9 547.1L209.5 547.9L210.1 548.6L210.7 549.4L211.3 550.2L211.8 550.9L212.4 551.7L213.0 552.4L213.6 553.2L214.2 553.9L214.8 554.6L215.3 555.3L215.9 556.0L216.5 556.8L217.1 557.5L217.7 558.1L218.2 558.8L218.8 559.5L219.4 560.2L220.0 560.9L220.6 561.5L221.2 562.2L221.7 562.8L222.3 563.5L222.9 564.1L223.5 564.8L224.1 565.4L224.7 566.0L225.2 566.7L226.0 567.4L226.7 568.2L227.4 568.9L228.1 569.7L228.9 570.4L229.6 571.1L230.3 571.8L231.1 572.4L231.8 573.1L232.5 573.8L233.2 574.4L234.0 575.0L234.7 575.6L235.4 576.2L236.2 576.8L236.9 577.4L237.6 578.0L238.3 578.5L239.1 579.0L239.8 579.5L240.5 580.0L241.2 580.5L242.0 581.0L242.8 581.6L243.7 582.1L244.6 582.7L245.5 583.2L246.3 583.7L247.2 584.2L248.1 584.7L249.0 585.2L249.8 585.7L250.7 586.2L251.6 586.7L252.5 587.1L253.3 587.6L254.2 588.1L255.1 588.6L255.9 589.0L256.8 589.5L257.7 590.0L258.6 590.5L259.4 591.0L260.3 591.4L261.2 591.9L262.1 592.3L262.9 592.8L263.8 593.2L264.7 593.7L265.6 594.1L266.4 594.6L267.3 595.0L268.2 595.5L269.0 595.9L269.9 596.4L270.8 596.9L271.7 597.4L272.5 597.8L273.4 598.3L274.3 598.8L275.2 599.3L276.0 599.7L276.9 600.2L277.8 600.7L278.7 601.2L279.5 601.6L280.4 602.1L281.3 602.6L282.1 603.1L283.0 603.5L283.9 604.0L284.8 604.5L285.6 605.0L286.5 605.5L287.4 605.9L288.3 606.4L289.1 606.9L290.0 607.4L290.9 607.8L291.8 608.3L292.6 608.8L293.5 609.3L294.4 609.7L294.8 596.8L295.0 583.7L295.1 570.6L295.2 557.4L295.4 544.7L295.5 532.3L295.7 519.9L295.8 507.6L296.0 495.2L296.1 483.5L296.3 471.8L296.4 460.1L296.6 448.4L296.7 437.1L296.8 426.2L297.0 415.4L297.1 404.7L297.3 393.9L297.4 383.4L297.6 372.9L297.7 362.4L297.9 351.7L298.0 341.1L298.2 330.3L298.3 319.5L298.5 308.7L298.6 298.0L298.7 287.2L298.9 276.5L299.0 265.8L299.2 255.1L299.3 244.6L299.5 234.1L299.6 223.7L299.8 213.5L299.9 203.5L300.1 193.6L300.2 184.1L300.3 174.8L300.5 165.8L300.6 157.2L300.8 149.1L300.9 141.4L301.1 134.3L301.2 127.8L301.4 121.9L301.5 116.6L301.7 112.0L301.8 108.2M301.8 108.2L301.9 105.0L302.1 102.7L302.2 101.0L302.5 100.0L302.8 101.7L303.0 103.6L303.1 106.1L303.3 109.1L303.4 112.6L303.5 116.6L303.7 120.9L303.8 125.6L304.0 130.6L304.1 135.8L304.3 141.2L304.4 146.7L304.6 152.3L304.7 157.9L304.9 163.5L305.0 169.1L305.1 174.6L305.3 180.0L305.4 185.4L305.6 190.6L305.7 195.6L305.9 200.5L306.0 205.3L306.2 209.8L306.3 214.3L306.5 218.5L306.6 222.6L306.7 226.6L306.9 230.4L307.0 234.0L307.2 237.6L307.3 241.0L307.5 244.2L307.6 247.4L307.8 250.4L307.9 253.4L308.1 256.2L308.2 259.0L308.3 261.7L308.5 264.3L308.6 266.8L308.8 269.3L308.9 271.7L309.1 274.0L309.2 276.3L309.4 278.6L309.5 280.8L309.7 282.9L309.8 285.0L309.9 287.1L310.1 289.1L310.2 291.1L310.4 293.1L310.5 295.0L310.7 296.9L310.8 298.7L311.0 300.6L311.1 302.4L311.3 304.1L311.4 305.9L311.6 307.6L311.7 309.2L311.8 310.9L312.0 312.5L312.1 314.1L312.3 315.7L312.4 317.3L312.6 318.9L312.7 320.4L312.9 321.9L313.0 323.4L313.2 324.9L313.3 326.3L313.4 327.8L313.6 329.2L313.7 330.5L313.9 331.9L314.0 333.2L314.2 334.6L314.3 335.9L314.5 337.1L314.6 338.4L314.8 339.6L314.9 340.9L315.0 342.1L315.2 343.3L315.3 344.4L315.5 345.6L315.6 346.7L315.8 347.9L315.9 349.0L316.1 350.1L316.2 351.2L316.4 352.2L316.5 353.3L316.8 355.3L317.1 357.3L317.4 359.2L317.7 361.1L318.0 363.0L318.2 364.8L318.5 366.6L318.8 368.3L319.1 370.0L319.4 371.7L319.7 373.3L320.0 374.9L320.3 376.4L320.6 378.0L320.9 379.5L321.2 381.0L321.4 382.4L321.7 383.9L322.0 385.3L322.3 386.7L322.6 388.0L322.9 389.4L323.2 390.7L323.5 392.0L323.8 393.3L324.1 394.5L324.4 395.8L324.7 397.0L324.9 398.2L325.2 399.4L325.5 400.6L325.8 401.8L326.1 402.9L326.4 404.1L326.7 405.2L327.0 406.3L327.3 407.4L327.6 408.5L327.9 409.6L328.1 410.7L328.4 411.7L328.7 412.8L329.0 413.8L329.3 414.8L329.6 415.8L329.9 416.8L330.2 417.8L330.5 418.8L330.8 419.8L331.1 420.8L331.3 421.7L331.6 422.7L331.9 423.7L332.2 424.6L332.5 425.5L332.8 426.5L333.1 427.4L333.4 428.3L333.7 429.2L334.1 430.6L334.5 431.9L335.0 433.2L335.4 434.5L335.9 435.8L336.3 437.1L336.7 438.4L337.2 439.6L337.6 440.9L338.0 442.1L338.5 443.4L338.9 444.6L339.4 445.8L339.8 447.0L340.2 448.2L340.7 449.4L341.1 450.5L341.5 451.7L342.0 452.8L342.4 454.0L342.8 455.1L343.3 456.3L343.7 457.4L344.2 458.5L344.6 459.6L345.0 460.7L345.5 461.8L345.9 462.9L346.3 463.9L346.8 465.0L347.2 466.0L347.6 467.1L348.1 468.1L348.5 469.2L349.0 470.2L349.4 471.2L349.8 472.3L350.3 473.3L350.7 474.3L351.1 475.3L351.6 476.3L352.0 477.3L352.5 478.2L352.9 479.2L353.3 480.2L353.8 481.1L354.2 482.1L354.6 483.0L355.1 484.0L355.5 484.9L355.9 485.8L356.4 486.8L356.8 487.7L357.3 488.6L357.7 489.5L358.1 490.4L358.6 491.3L359.0 492.2L359.4 493.1L359.9 494.0L360.3 494.8L360.7 495.7L361.2 496.6L361.6 497.4L362.1 498.3L362.5 499.1L362.9 500.0L363.4 500.8L363.8 501.6L364.2 502.5L364.7 503.3L365.1 504.1L365.6 504.9L366.0 505.7L366.4 506.5L366.9 507.3L367.3 508.1L367.7 508.9L368.2 509.7L368.6 510.5L369.0 511.3L369.5 512.0L369.9 512.8L370.5 513.8L371.1 514.8L371.7 515.8L372.2 516.8L372.8 517.8L373.4 518.7L374.0 519.7L374.6 520.7L375.2 521.6L375.7 522.6L376.3 523.5L376.9 524.4L377.5 525.3L378.1 526.2L378.7 527.1L379.2 528.0L379.8 528.9L380.4 529.8L381.0 530.7L381.6 531.6L382.1 532.4L382.7 533.3L383.3 534.1L383.9 535.0L384.5 535.8L385.1 536.6L385.6 537.4L386.2 538.3L386.8 539.1L387.4 539.9L388.0 540.7L388.5 541.4L389.1 542.2L389.7 543.0L390.3 543.8L390.9 544.5L391.5 545.3L392.0 546.0L392.6 546.8L393.2 547.5L393.8 548.3L394.4 549.0L395.0 549.7L395.5 550.4L396.1 551.1L396.7 551.8L397.3 552.5L397.9 553.2L398.4 553.9L399.0 554.6L399.6 555.3L400.2 556.0L400.8 556.6L401.4 557.3L401.9 557.9L402.5 558.6L403.1 559.2L403.7 559.9L404.3 560.5L404.9 561.1L405.4 561.8L406.0 562.4L406.7 563.1L407.5 563.9L408.2 564.7L408.9 565.4L409.7 566.1L410.4 566.9L411.1 567.6L411.8 568.3L412.6 569.0L413.3 569.7L414.0 570.4L414.7 571.1L415.5 571.8L416.2 572.5L416.9 573.1L417.7 573.8L418.4 574.4L419.1 575.1L419.8 575.7L420.6 576.4L421.3 577.0L422.0 577.6L422.8 578.2L423.5 578.8L424.2 579.4L424.9 580.0L425.7 580.6L426.4 581.2L427.1 581.8L427.8 582.4L428.6 582.9L429.3 583.5L430.0 584.1L430.8 584.6L431.5 585.2L432.2 585.7L432.9 586.2L433.7 586.8L434.4 587.3L435.1 587.8L435.9 588.3L436.6 588.8L437.3 589.4L438.0 589.9L438.8 590.3L439.5 590.8L440.2 591.3L440.9 591.8L441.7 592.3L442.5 592.8L443.4 593.4L444.3 594.0L445.2 594.5L446.0 595.0L446.9 595.6L447.8 596.1L448.7 596.6L449.5 597.1L450.4 597.6L451.3 598.1L452.2 598.6L453.0 599.1L453.9 599.6L454.8 600.1L455.6 600.6L456.5 601.0L457.4 601.5L458.3 602.0L459.1 602.4L460.0 602.9L460.9 603.3L461.8 603.7L462.6 604.2L463.5 604.6L464.4 605.0L465.3 605.4L466.1 605.8L467.0 606.2L467.9 606.7L468.7 607.0L469.5 594.0L469.6 580.8L469.8 567.5L469.9 554.2L470.1 541.3L470.2 528.7L470.4 516.2L470.5 503.7L470.6 491.2L470.8 479.3L470.9 467.4L471.1 455.6L471.2 443.8L471.4 432.3L471.5 421.3L471.7 410.4L471.8 399.5L472.0 388.6L472.1 378.0L472.2 367.3L472.4 356.6L472.5 345.9L472.7 335.1L472.8 324.2L473.0 313.3L473.1 302.3L473.3 291.4L473.4 280.5L473.6 269.6L473.7 258.8L473.8 248.0L474.0 237.3L474.1 226.7L474.3 216.2L474.4 205.9L474.6 195.7L474.7 185.8L474.9 176.0L475.0 166.6L475.2 157.6L475.3 148.9L475.4 140.6L475.6 132.9L475.7 125.7L475.9 119.0L476.0 113.0L476.2 107.7L476.3 103.1L476.5 99.2M476.5 99.2L476.6 96.0L476.8 93.6L476.9 91.9L477.2 90.9L477.5 92.7L477.6 94.5L477.8 97.0L477.9 100.1L478.1 103.6L478.2 107.7L478.4 112.1L478.5 116.8L478.6 121.9L478.8 127.1L478.9 132.6L479.1 138.1L479.2 143.8L479.4 149.5L479.5 155.2L479.7 160.8L479.8 166.4L480.0 171.9L480.1 177.3L480.2 182.5L480.4 187.7L480.5 192.6L480.7 197.4L480.8 202.1L481.0 206.6L481.1 210.9L481.3 215.0L481.4 219.0L481.6 222.9L481.7 226.6L481.8 230.1L482.0 233.6L482.1 236.9L482.3 240.1L482.4 243.2L482.6 246.1L482.7 249.0L482.9 251.8L483.0 254.5L483.2 257.2L483.3 259.7L483.5 262.2L483.6 264.7L483.7 267.1L483.9 269.4L484.0 271.7L484.2 273.9L484.3 276.1L484.5 278.2L484.6 280.3L484.8 282.4L484.9 284.4L485.1 286.4L485.2 288.3L485.3 290.2L485.5 292.1L485.6 293.9L485.8 295.8L485.9 297.6L486.1 299.3L486.2 301.0L486.4 302.7L486.5 304.4L486.7 306.1L486.8 307.7L486.9 309.3L487.1 310.9L487.2 312.5L487.4 314.1L487.5 315.6L487.7 317.1L487.8 318.6L488.0 320.1L488.1 321.5L488.3 322.9L488.4 324.3L488.5 325.7L488.7 327.1L488.8 328.4L489.0 329.7L489.1 331.0L489.3 332.3L489.4 333.5L489.6 334.8L489.7 336.0L489.9 337.2L490.0 338.4L490.1 339.6L490.3 340.8L490.4 341.9L490.6 343.0L490.7 344.1L490.9 345.2L491.0 346.3L491.2 347.4L491.5 349.5L491.7 351.5L492.0 353.4L492.3 355.4L492.6 357.3L492.9 359.1L493.2 360.9L493.5 362.6L493.8 364.4L494.1 366.1L494.4 367.7L494.7 369.3L494.9 370.9L495.2 372.5L495.5 374.0L495.8 375.5L496.1 377.0L496.4 378.5L496.7 379.9L497.0 381.3L497.3 382.7L497.6 384.1L497.9 385.4L498.2 386.7L498.4 388.0L498.7 389.3L499.0 390.6L499.3 391.8L499.6 393.1L499.9 394.3L500.2 395.5L500.5 396.7L500.8 397.8L501.1 399.0L501.4 400.1L501.6 401.3L501.9 402.4L502.2 403.5L502.5 404.6L502.8 405.7L503.1 406.8L503.4 407.8L503.7 408.9L504.0 409.9L504.3 411.0L504.6 412.0L504.8 413.0L505.1 414.0L505.4 415.0L505.7 416.0L506.0 417.0L506.3 418.0L506.6 418.9L506.9 419.9L507.2 420.8L507.5 421.8L507.8 422.7L508.0 423.6L508.3 424.6L508.6 425.5L508.9 426.4L509.2 427.3L509.7 428.6L510.1 430.0L510.5 431.3L511.0 432.6L511.4 433.9L511.8 435.2L512.3 436.5L512.7 437.7L513.1 439.0L513.6 440.2L514.0 441.5L514.5 442.7L514.9 443.9L515.3 445.1L515.8 446.3L516.2 447.5L516.6 448.6L517.1 449.8L517.5 451.0L517.9 452.1L518.4 453.3L518.8 454.4L519.3 455.5L519.7 456.6L520.1 457.7L520.6 458.8L521.0 459.9L521.4 461.0L521.9 462.1L522.3 463.2L522.8 464.2L523.2 465.3L523.6 466.3L524.1 467.4L524.5 468.4L524.9 469.5L525.4 470.5L525.8 471.5L526.2 472.5L526.7 473.5L527.1 474.5L527.6 475.5L528.0 476.5L528.4 477.5L528.9 478.4L529.3 479.4L529.7 480.4L530.2 481.3L530.6 482.3L531.0 483.2L531.5 484.1L531.9 485.1L532.4 486.0L532.8 486.9L533.2 487.8L533.7 488.7L534.1 489.6L534.5 490.5L535.0 491.4L535.4 492.3L535.9 493.2L536.3 494.1L536.7 494.9L537.2 495.8L537.6 496.7L538.0 497.5L538.5 498.4L538.9 499.2L539.3 500.0L539.8 500.9L540.2 501.7L540.7 502.5L541.1 503.3L541.5 504.2L542.0 505.0L542.4 505.8L542.8 506.6L543.3 507.4L543.7 508.1L544.1 508.9L544.6 509.7L545.0 510.5L545.5 511.3L545.9 512.0L546.5 513.0L547.1 514.0L547.6 515.0L548.2 516.0L548.8 517.0L549.4 518.0L550.0 518.9L550.6 519.9L551.1 520.8L551.7 521.8L552.3 522.7L552.9 523.6L553.5 524.6L554.0 525.5L554.6 526.4L555.2 527.3L555.8 528.2L556.4 529.1L557.0 529.9L557.5 530.8L558.1 531.7L558.7 532.5L559.3 533.4L559.9 534.2L560.4 535.0L561.0 535.9L561.6 536.7L562.2 537.5L562.8 538.3L563.4 539.1L563.9 539.9L564.5 540.7L565.1 541.5L565.7 542.3L566.3 543.0L566.9 543.8L567.4 544.6L568.0 545.3L568.6 546.0L569.2 546.8L569.8 547.5L570.3 548.3L570.9 549.0L571.5 549.7L572.1 550.4L572.7 551.1L573.3 551.8L573.8 552.5L574.4 553.2L575.0 553.9L575.6 554.5L576.2 555.2L576.8 555.9L577.3 556.5L577.9 557.2L578.5 557.9L579.1 558.5L579.7 559.1L580.2 559.8L580.8 560.4L581.4 561.0L582.0 561.7L582.7 562.4L583.4 563.2L584.2 563.9L584.9 564.7L585.6 565.4L586.4 566.2L587.1 566.9L587.8 567.6L588.5 568.3L589.3 569.0L590.0 569.7L590.7 570.4L591.5 571.1L592.2 571.7L592.9 572.4L593.6 573.1L594.4 573.7L595.1 574.4L595.8 575.0L596.5 575.7L597.3 576.3L598.0 576.9L598.7 577.5L599.5 578.1L600.2 578.7L600.9 579.3L601.6 579.9L602.4 580.5L603.1 581.1L603.8 581.7L604.6 582.3L605.3 582.8L606.0 583.4L606.7 583.9L607.5 584.5L608.2 585.0L608.9 585.6L609.6 586.1L610.4 586.6L611.1 587.1L611.8 587.7L612.6 588.2L613.3 588.7L614.0 589.2L614.7 589.7L615.5 590.2L616.2 590.7L616.9 591.1L617.7 591.6L618.4 592.1L619.3 592.6L620.1 593.2L621.0 593.7L621.9 594.3L622.7 594.8L623.6 595.4L624.5 595.9L625.4 596.4L626.2 596.9L627.1 597.4L628.0 597.9L628.9 598.4L629.7 598.9L630.6 599.4L631.5 599.8L632.4 600.3L633.2 600.8L634.1 601.2L635.0 601.7L635.8 602.1L636.7 602.6L637.6 603.0L638.5 603.5L639.3 603.9L640.2 604.3L641.1 604.7L642.0 605.1L642.8 605.6L643.7 606.0L644.1 592.7L644.3 579.3L644.4 566.0L644.6 552.6L644.7 539.6L644.9 527.0L645.0 514.3L645.2 501.7L645.3 489.1L645.5 477.1L645.6 465.2L645.7 453.3L645.9 441.4L646.0 429.8L646.2 418.8L646.3 407.7L646.5 396.8L646.6 385.8L646.8 375.1L646.9 364.4L647.1 353.6L647.2 342.8L647.3 331.9L647.5 321.0L647.6 309.9L647.8 298.9L647.9 287.9L648.1 276.9L648.2 266.0L648.4 255.1L648.5 244.2L648.7 233.5L648.8 222.8L648.9 212.2L649.1 201.8L649.2 191.5L649.4 181.5L649.5 171.7L649.7 162.2L649.8 153.1L650.0 144.4L650.1 136.1L650.3 128.2L650.4 121.0L650.5 114.3L650.7 108.3L650.8 102.9L651.0 98.2L651.1 94.3M651.1 94.3L651.3 91.1L651.4 88.7L651.6 87.0L651.9 86.0L652.1 87.8L652.3 89.7L652.4 92.2L652.6 95.3L652.7 98.9L652.9 102.9L653.0 107.4L653.2 112.1L653.3 117.2L653.5 122.5L653.6 128.0L653.8 133.6L653.9 139.3L654.0 145.1L654.2 150.8L654.3 156.5L654.5 162.1L654.6 167.7L654.8 173.1L654.9 178.4L655.1 183.6L655.2 188.6L655.4 193.4L655.5 198.1L655.6 202.6L655.8 207.0L655.9 211.2L656.1 215.2L656.2 219.1L656.4 222.8L656.5 226.4L656.7 229.9L656.8 233.2L657.0 236.4L657.1 239.5L657.2 242.5L657.4 245.4L657.5 248.2L657.7 251.0L657.8 253.6L658.0 256.2L658.1 258.7L658.3 261.2L658.4 263.6L658.6 265.9L658.7 268.2L658.8 270.5L659.0 272.7L659.1 274.8L659.3 276.9L659.4 279.0L659.6 281.0L659.7 283.0L659.9 285.0L660.0 286.9L660.2 288.8L660.3 290.6L660.4 292.5L660.6 294.3L660.7 296.0L660.9 297.8L661.0 299.5L661.2 301.2L661.3 302.8L661.5 304.4L661.6 306.1L661.8 307.7L661.9 309.3L662.0 310.9L662.2 312.4L662.3 313.9L662.5 315.4L662.6 316.9L662.8 318.3L662.9 319.8L663.1 321.2L663.2 322.5L663.4 323.9L663.5 325.3L663.6 326.6L663.8 327.9L663.9 329.2L664.1 330.4L664.2 331.7L664.4 332.9L664.5 334.1L664.7 335.3L664.8 336.5L665.0 337.7L665.1 338.8L665.2 339.9L665.4 341.0L665.5 342.1L665.7 343.3L665.8 344.3L666.1 346.4L666.4 348.4L666.7 350.4L667.0 352.3L667.3 354.2L667.6 356.0L667.9 357.8L668.2 359.6L668.5 361.3L668.7 363.0L669.0 364.6L669.3 366.3L669.6 367.9L669.9 369.4L670.2 371.0L670.5 372.5L670.8 374.0L671.1 375.4L671.4 376.8L671.7 378.2L671.9 379.6L672.2 381.0L672.5 382.3L672.8 383.7L673.1 385.0L673.4 386.2L673.7 387.5L674.0 388.8L674.3 390.0L674.6 391.2L674.9 392.4L675.1 393.6L675.4 394.8L675.7 395.9L676.0 397.1L676.3 398.2L676.6 399.3L676.9 400.4L677.2 401.5L677.5 402.6L677.8 403.7L678.1 404.7L678.3 405.8L678.6 406.8L678.9 407.9L679.2 408.9L679.5 409.9L679.8 410.9L680.1 411.9L680.4 412.9L680.7 413.8L681.0 414.8L681.3 415.8L681.6 416.7L681.8 417.7L682.1 418.6L682.4 419.6L682.7 420.5L683.0 421.4L683.3 422.3L683.7 423.7L684.2 425.0L684.6 426.4L685.0 427.7L685.5 429.0L685.9 430.3L686.4 431.6L686.8 432.8L687.2 434.1L687.7 435.4L688.1 436.6L688.5 437.8L689.0 439.0L689.4 440.2L689.8 441.5L690.3 442.6L690.7 443.8L691.2 445.0L691.6 446.2L692.0 447.3L692.5 448.5L692.9 449.6L693.3 450.7L693.8 451.9L694.2 453.0L694.7 454.1L695.1 455.2L695.5 456.3L696.0 457.4L696.4 458.4L696.8 459.5L697.3 460.6L697.7 461.6L698.1 462.7L698.6 463.7L699.0 464.7L699.5 465.8L699.9 466.8L700.3 467.8L700.8 468.8L701.2 469.8L701.6 470.8L702.1 471.8L702.5 472.8L702.9 473.8L703.4 474.7L703.8 475.7L704.3 476.7L704.7 477.6L705.1 478.6L705.6 479.5L706.0 480.4L706.4 481.4L706.9 482.3L707.3 483.2L707.8 484.1L708.2 485.0L708.6 485.9L709.1 486.8L709.5 487.7L709.9 488.6L710.4 489.5L710.8 490.4L711.2 491.2L711.7 492.1L712.1 493.0L712.6 493.8L713.0 494.7L713.4 495.5L713.9 496.3L714.3 497.2L714.7 498.0L715.2 498.8L715.6 499.6L716.0 500.5L716.5 501.3L716.9 502.1L717.4 502.9L717.8 503.7L718.2 504.4L718.7 505.2L719.1 506.0L719.5 506.8L720.0 507.5L720.4 508.3L721.0 509.3L721.6 510.3L722.2 511.3L722.7 512.3L723.3 513.3L723.9 514.3L724.5 515.2L725.1 516.2L725.7 517.1L726.2 518.1L726.8 519.0L727.4 520.0L728.0 520.9L728.6 521.8L729.1 522.7L729.7 523.6L730.3 524.5L730.9 525.4L731.5 526.2L732.1 527.1L732.6 528.0L733.2 528.8L733.8 529.7L734.4 530.5L735.0 531.4L735.6 532.2L736.1 533.0L736.7 533.8L737.3 534.6L737.9 535.4L738.5 536.2L739.0 537.0L739.6 537.8L740.2 538.6L740.8 539.4L741.4 540.1L742.0 540.9L742.5 541.6L743.1 542.4L743.7 543.1L744.3 543.9L744.9 544.6L745.4 545.3L746.0 546.0L746.6 546.7L747.2 547.4L747.8 548.1L748.4 548.8L748.9 549.5L749.5 550.2L750.1 550.8L750.7 551.5L751.3 552.2L751.9 552.8L752.4 553.5L753.0 554.1L753.6 554.7L754.2 555.3L754.8 556.0L755.5 556.7L756.2 557.5L756.9 558.2L757.7 559.0L758.4 559.7L759.1 560.4L759.9 561.2L760.6 561.9L761.3 562.6L762.0 563.3L762.8 563.9L763.5 564.6L764.2 565.3L765.0 565.9L765.7 566.6L766.4 567.2L767.1 567.9L767.9 568.5L768.6 569.1L769.3 569.8L770.0 570.4L770.8 571.0L771.5 571.6L772.2 572.2L773.0 572.7L773.7 573.3L774.4 573.9L775.1 574.5L775.9 575.0L776.6 575.6L777.3 576.1L778.1 576.7L778.8 577.2L779.5 577.7L780.2 578.2L781.0 578.7L781.7 579.3L782.4 579.8L783.1 580.3L783.9 580.7L784.6 581.2L785.3 581.7L786.1 582.2L786.9 582.7L787.8 583.3L788.7 583.8L789.6 584.4L790.4 584.9L791.3 585.4L792.2 586.0L793.0 586.5L793.9 587.0L794.8 587.5L795.7 587.9L796.5 588.4L797.4 588.9L798.3 589.4L799.2 589.8L800.0 590.3L800.9 590.7L801.8 591.2L802.7 591.6L803.5 592.0L804.4 592.4L805.3 592.9L806.1 593.3L807.0 593.7L807.9 594.1L808.8 594.5L809.6 594.8L810.5 595.2L811.4 595.6L812.3 596.0L813.1 596.3L814.0 596.7L814.9 597.0L815.8 597.4L816.6 597.7L817.5 598.1L818.4 598.4L818.8 585.3L819.0 572.1L819.1 558.9L819.2 545.7L819.4 532.9L819.5 520.4L819.7 508.0L819.8 495.6L820.0 483.1L820.1 471.3L820.3 459.5L820.4 447.8L820.6 436.0L820.7 424.6L820.8 413.6L821.0 402.7L821.1 391.9L821.3 381.0L821.4 370.4L821.6 359.7L821.7 349.0L821.9 338.2L822.0 327.3L822.2 316.3L822.3 305.4L822.4 294.4L822.6 283.4L822.7 272.5L822.9 261.6L823.0 250.7L823.2 239.9L823.3 229.1L823.5 218.5L823.6 208.0L823.8 197.6L823.9 187.4L824.0 177.4L824.2 167.7L824.3 158.4L824.5 149.3L824.6 140.7L824.8 132.6L824.9 125.0L825.1 117.9L825.2 111.4L825.4 105.6L825.5 100.5L825.7 96.1L825.8 92.4M825.8 92.4L825.9 89.5L826.1 87.4L826.2 86.0L826.8 87.9L827.0 90.1L827.1 92.8L827.3 96.1L827.4 99.9L827.5 104.1L827.7 108.7L827.8 113.6L828.0 118.8L828.1 124.2L828.3 129.7L828.4 135.3L828.6 141.0L828.7 146.8L828.9 152.4L829.0 158.1L829.1 163.6L829.3 169.1L829.4 174.4L829.6 179.6L829.7 184.7L829.9 189.6L830.0 194.3L830.2 198.8L830.3 203.2L830.5 207.5L830.6 211.6L830.7 215.5L830.9 219.3L831.0 222.9L831.2 226.4L831.3 229.8L831.5 233.1L831.6 236.2L831.8 239.3L831.9 242.2L832.1 245.1L832.2 247.9L832.3 250.6L832.5 253.2L832.6 255.8L832.8 258.3L832.9 260.7L833.1 263.1L833.2 265.4L833.4 267.7L833.5 269.9L833.7 272.1L833.8 274.3L833.9 276.4L834.1 278.4L834.2 280.5L834.4 282.5L834.5 284.4L834.7 286.3L834.8 288.2L835.0 290.1L835.1 291.9L835.3 293.7L835.4 295.5L835.5 297.2L835.7 298.9L835.8 300.6L836.0 302.3L836.1 303.9L836.3 305.5L836.4 307.2L836.6 308.8L836.7 310.3L836.9 311.9L837.0 313.4L837.1 314.9L837.3 316.3L837.4 317.8L837.6 319.2L837.7 320.6L837.9 322.0L838.0 323.4L838.2 324.7L838.3 326.1L838.5 327.3L838.6 328.6L838.8 329.9L838.9 331.2L839.0 332.4L839.2 333.6L839.3 334.8L839.5 336.0L839.6 337.1L839.8 338.3L839.9 339.4L840.1 340.5L840.2 341.6L840.4 342.7L840.5 343.8L840.8 345.9L841.1 347.9L841.4 349.9L841.7 351.8L842.0 353.7L842.2 355.5L842.5 357.3L842.8 359.1L843.1 360.8L843.4 362.5L843.7 364.1L844.0 365.8L844.3 367.4L844.6 368.9L844.9 370.5L845.2 372.0L845.4 373.5L845.7 374.9L846.0 376.4L846.3 377.8L846.6 379.1L846.9 380.5L847.2 381.9L847.5 383.2L847.8 384.5L848.1 385.8L848.4 387.0L848.6 388.3L848.9 389.5L849.2 390.8L849.5 391.9L849.8 393.1L850.1 394.3L850.4 395.5L850.7 396.6L851.0 397.7L851.3 398.9L851.6 400.0L851.9 401.1L852.1 402.2L852.4 403.2L852.7 404.3L853.0 405.3L853.3 406.4L853.6 407.4L853.9 408.4L854.2 409.5L854.5 410.5L854.8 411.5L855.1 412.5L855.3 413.4L855.6 414.4L855.9 415.4L856.2 416.3L856.5 417.3L856.8 418.2L857.1 419.2L857.4 420.1L857.7 421.0L858.0 421.9L858.4 423.3L858.8 424.6L859.3 426.0L859.7 427.3L860.1 428.6L860.6 429.9L861.0 431.2L861.5 432.5L861.9 433.7L862.3 435.0L862.8 436.2L863.2 437.5L863.6 438.7L864.1 439.9L864.5 441.1L865.0 442.3L865.4 443.5L865.8 444.7L866.3 445.8L866.7 447.0L867.1 448.1L867.6 449.3L868.0 450.4L868.4 451.5L868.9 452.6L869.3 453.8L869.8 454.9L870.2 456.0L870.6 457.0L871.1 458.1L871.5 459.2L871.9 460.3L872.4 461.3L872.8 462.4L873.2 463.4L873.7 464.4L874.1 465.5L874.6 466.5L875.0 467.5L875.4 468.5L875.9 469.5L876.3 470.5L876.7 471.5L877.2 472.5L877.6 473.5L878.1 474.5L878.5 475.4L878.9 476.4L879.4 477.3L879.8 478.3L880.2 479.2L880.7 480.2L881.1 481.1L881.5 482.0L882.0 483.0L882.4 483.9L882.9 484.8L883.3 485.7L883.7 486.6L884.2 487.5L884.6 488.4L885.0 489.2L885.5 490.1L885.9 491.0L886.3 491.9L886.8 492.7L887.2 493.6L887.7 494.4L888.1 495.3L888.5 496.1L889.0 496.9L889.4 497.8L889.8 498.6L890.3 499.4L890.7 500.2L891.2 501.0L891.6 501.8L892.0 502.6L892.5 503.4L892.9 504.2L893.3 505.0L893.8 505.8L894.2 506.6L894.6 507.3L895.1 508.1L895.7 509.1L896.2 510.1L896.8 511.1L897.4 512.1L898.0 513.1L898.6 514.1L899.2 515.0L899.7 516.0L900.3 517.0L900.9 517.9L901.5 518.8L902.1 519.8L902.6 520.7L903.2 521.6L903.8 522.5L904.4 523.4L905.0 524.3L905.6 525.2L906.1 526.1L906.7 526.9L907.3 527.8L907.9 528.7L908.5 529.5L909.1 530.4L909.6 531.2L910.2 532.0L910.8 532.9L911.4 533.7L912.0 534.5L912.5 535.3L913.1 536.1L913.7 536.9L914.3 537.7L914.9 538.4L915.5 539.2L916.0 540.0L916.6 540.7L917.2 541.5L917.8 542.2L918.4 543.0L919.0 543.7L919.5 544.5L920.1 545.2L920.7 545.9L921.3 546.6L921.9 547.3L922.4 548.0L923.0 548.7L923.6 549.4L924.2 550.1L924.8 550.8L925.4 551.5L925.9 552.1L926.5 552.8L927.1 553.5L927.7 554.1L928.3 554.8L928.8 555.4L929.4 556.0L930.0 556.7L930.6 557.3L931.2 557.9L931.8 558.6L932.5 559.3L933.2 560.1L933.9 560.8L934.7 561.6L935.4 562.3L936.1 563.0L936.9 563.8L937.6 564.5L938.3 565.2L939.0 565.9L939.8 566.6L940.5 567.3L941.2 568.0L941.9 568.6L942.7 569.3L943.4 570.0L944.1 570.6L944.9 571.3L945.6 571.9L946.3 572.6L947.0 573.2L947.8 573.8L948.5 574.4L949.2 575.0L950.0 575.6L950.7 576.2L951.4 576.8L952.1 577.4L952.9 578.0L953.6 578.6L954.3 579.2L955.0 579.7L955.8 580.3L956.5 580.8L957.2 581.4L958.0 581.9L958.7 582.5L959.4 583.0L960.1 583.5L960.9 584.0L961.6 584.6L962.3 585.1L963.1 585.6L963.8 586.1L964.5 586.6L965.2 587.1L966.0 587.6L966.7 588.1L967.4 588.5L968.1 589.0L969.0 589.6L969.9 590.1L970.8 590.7L971.6 591.2L972.5 591.8L973.4 592.3L974.3 592.8L975.1 593.3L976.0 593.9L976.9 594.4L977.8 594.9L978.6 595.4L979.5 595.8L980.4 596.3L981.2 596.8L982.1 597.3L983.0 597.8L983.9 598.2L984.7 598.7L985.6 599.1L986.5 599.6L987.4 600.0L988.2 600.5L989.1 600.9L990.0 601.3L990.9 601.7L991.7 602.1L992.6 602.6L993.5 603.0L994.3 603.4L995.2 603.8L996.1 604.2L997.0 604.6L997.8 604.9L998.7 605.3L999.6 605.7L1000.5 606.1L1001.3 606.4L1002.2 606.8L1003.1 607.2L1004.0 607.5L1004.8 607.9L1005.7 608.2L1006.6 608.6L1007.4 608.9L1008.3 609.2L1009.2 609.6L1010.1 609.9L1011.1 610.3L1012.1 610.6L1013.1 611.0L1014.1 611.4L1015.2 611.7L1016.2 612.1L1017.2 612.4L1018.2 612.8L1019.2 613.1L1020.3 613.5L1021.3 613.8L1022.3 614.1L1023.3 614.5L1024.3 614.8L1025.4 615.1L1026.4 615.4L1027.4 615.7L1028.4 616.0L1029.4 616.3L1030.4 616.6L1031.5 616.9L1032.5 617.2L1033.5 617.5L1034.5 617.7L1035.5 618.0L1036.6 618.3L1037.6 618.6L1038.6 618.8L1039.6 619.1L1040.6 619.4L1041.7 619.6L1042.7 619.9L1043.7 620.1L1044.7 620.4L1045.7 620.6L1046.7 620.9L1047.8 621.1L1048.8 621.3L1049.8 621.6L1050.8 621.8L1051.8 622.0L1052.9 622.2L1053.9 622.5L1054.9 622.7L1055.9 622.9L1056.9 623.1L1058.0 623.3L1059.0 623.5L1060.0 623.7L1061.0 623.9L1062.0 624.1L1063.1 624.3L1064.1 624.5L1065.1 624.7L1066.1 624.9L1067.1 625.1L1068.1 625.3L1069.2 625.5L1070.3 625.7L1071.5 625.9L1072.7 626.1L1073.8 626.3L1075.0 626.5L1076.2 626.7L1077.3 626.8L1078.5 627.0L1079.6 627.2L1080.8 627.4L1082.0 627.6L1083.1 627.8L1084.3 627.9L1085.5 628.1L1086.6 628.3L1087.8 628.4L1089.0 628.6L1090.1 628.8L1091.3 628.9L1092.5 629.1L1093.6 629.3L1094.8 629.4L1095.9 629.6L1097.1 629.7L1098.3 629.9L1099.4 630.0L1100.6 630.2L1101.8 630.3L1102.9 630.4L1104.1 630.6L1105.3 630.7L1106.4 630.9L1107.6 631.0L1108.8 631.1L1109.9 631.3L1111.1 631.4L1112.2 631.5L1113.4 631.6L1114.6 631.8L1115.7 631.9L1116.9 632.0L1118.1 632.1L1119.2 632.2L1120.4 632.4L1121.6 632.5L1122.7 632.6L1123.9 632.7L1125.1 632.8L1126.2 632.9L1127.4 633.0L1128.6 633.1L1129.7 633.2L1130.9 633.3L1132.0 633.4L1133.2 633.5L1134.4 633.6L1135.5 633.7L1136.7 633.8L1137.9 633.9L1139.0 634.0L1140.2 634.1L1141.4 634.2L1142.5 634.3L1143.7 634.4L1144.9 634.5L1146.0 634.6L1147.2 634.7L1148.3 634.8L1149.5 634.8L1150.7 634.9L1151.8 635.0L1153.0 635.1L1154.2 635.2L1155.3 635.3L1156.5 635.3L1157.7 635.4L1158.8 635.5L1160.0 635.6L1161.2 635.6L1162.3 635.7L1163.5 635.8L1164.6 635.9L1165.8 635.9L1167.0 636.0L1168.0 636.1" fill="none" stroke="#000" stroke-width="5.6" stroke-linecap="round" stroke-linejoin="round" stroke-dasharray="16.5 24"/>
<path d="M129.6 193.9L129.5 195.0L129.3 196.5L129.2 198.4L129.0 200.8L128.9 203.5L128.7 206.6L128.6 210.1L128.4 214.0L128.3 218.1L128.2 222.6L128.0 227.3L127.9 232.3L127.7 237.5L127.6 243.0L127.4 248.6L127.3 254.3L127.1 260.3L127.0 266.3L126.8 272.5L126.7 278.7L126.5 285.1L126.4 291.5L126.3 298.1L126.1 304.6L126.0 311.3L125.8 318.0L125.7 324.8L125.5 331.6L125.4 338.4L125.2 345.3L125.1 352.3L124.9 359.3L124.8 366.3L124.7 373.4L124.5 380.5L124.4 387.6L124.2 394.8L124.1 402.0L123.9 409.2L123.8 416.5L123.6 423.7L123.5 431.0L123.3 437.7L123.2 444.6L123.1 451.6L122.9 458.9L122.8 466.4L122.6 474.1L122.5 482.0L122.3 490.1L122.2 498.8L122.0 507.9L121.9 517.4L121.7 527.3L121.6 536.4L121.5 545.8L121.3 555.6L121.2 565.3L121.0 575.0L120.9 584.7L120.7 594.7L120.6 605.1L120.4 615.6L120.3 626.1L120.1 636.5L120.0 647.0M129.6 193.9L130.3 194.8L130.5 196.2L130.6 197.9L130.8 200.0L130.9 202.4L131.1 205.1L131.2 208.0L131.4 211.1L131.5 214.4L131.6 217.9L131.8 221.5L131.9 225.2L132.1 228.9L132.2 232.6L132.4 236.4L132.5 240.1L132.7 243.8L132.8 247.4L133.0 251.0L133.1 254.4L133.2 257.8L133.4 261.0L133.5 264.2L133.7 267.2L133.8 270.0L134.0 272.8L134.1 275.4L134.3 277.9L134.4 280.3L134.6 282.6L134.7 284.8L134.8 286.9L135.0 288.8L135.1 290.7L135.3 292.5L135.4 294.2L135.6 295.9L135.7 297.5L135.9 299.0L136.0 300.4L136.2 301.8L136.3 303.1L136.4 304.4L136.6 305.6L136.7 306.8L136.9 307.9L137.0 309.0L137.3 311.0L137.6 313.1L137.8 314.2L138.0 316.1L138.3 317.9L138.6 319.5L138.9 321.0L139.2 322.4L139.5 323.6L139.8 324.7L140.1 325.7L140.4 326.7L140.8 328.0L141.3 329.1L141.7 330.1L142.1 331.0L142.6 331.8L143.0 332.7L143.4 333.5L143.9 334.4L144.3 335.3L144.7 336.2L145.2 337.2L145.6 338.4L146.1 339.6L146.5 340.9L146.8 341.9L147.1 342.9L147.4 344.0L147.7 345.2L147.9 346.4L148.2 347.7L148.5 348.9L148.8 350.2L149.1 351.3L149.4 352.5L149.7 353.6L150.0 354.6L150.3 355.6L150.7 356.8L151.1 358.0L151.6 359.0L152.0 360.1L152.5 361.1L152.9 362.2L153.3 363.3L153.8 364.5L154.2 365.7L154.6 367.0L155.1 368.2L155.5 369.5L156.0 370.8L156.2 371.8L156.5 372.7L156.8 373.7L157.1 374.6L157.4 375.6L157.8 376.9L158.3 378.2L158.7 379.5L159.2 380.7L159.6 381.9L160.0 383.1L160.5 384.4L160.8 385.4L161.0 386.4L161.3 387.4L161.6 388.4L161.9 389.4L162.2 390.4L162.5 391.3L162.9 392.6L163.4 393.9L163.8 395.1L164.2 396.3L164.7 397.5L165.1 398.9L165.4 399.8L165.7 400.8L166.0 401.8L166.3 402.8L166.6 403.9L166.9 405.0L167.2 406.2L167.5 407.3L167.7 408.5L168.0 409.8L168.3 411.1L168.6 412.3L168.9 413.6L169.2 414.8L169.5 416.0L169.8 417.1L170.1 418.2L170.4 419.1L170.7 420.1L171.1 421.4L171.5 422.8L172.0 424.1L172.4 425.4L172.8 426.8L173.1 427.7L173.4 428.7L173.7 429.8L174.0 430.9L174.3 432.0L174.6 433.1L174.9 434.2L175.2 435.1L175.5 436.1L175.7 437.0L176.2 438.3L176.6 439.6L177.1 440.8L177.5 441.9L177.9 442.9L178.4 444.0L178.8 444.9L179.2 445.9L179.7 446.8L180.1 447.6L180.6 448.5L181.0 449.4L181.4 450.3L181.9 451.2L182.3 452.1L182.7 453.0L183.2 453.9L183.6 454.8L184.0 455.6L184.5 456.4L184.9 457.2L185.5 458.2L186.1 459.2L186.7 460.2L187.2 461.1L187.8 462.0L188.4 462.9L189.0 463.8L189.6 464.7L190.2 465.6L190.7 466.5L191.3 467.4L191.9 468.3L192.5 469.1L193.1 470.0L193.7 470.9L194.2 471.8L194.8 472.6L195.4 473.5L196.0 474.4L196.6 475.2L197.1 476.1L197.7 476.9L198.3 477.8L198.9 478.6L199.5 479.5L200.1 480.3L200.6 481.2L201.2 482.1L201.8 483.0L202.4 483.9L203.0 484.8L203.5 485.7L204.1 486.6L204.7 487.6L205.3 488.5L205.9 489.5L206.5 490.4L207.0 491.3L207.6 492.2L208.2 493.1L208.8 494.0L209.4 494.9L210.0 495.8L210.5 496.6L211.1 497.4L211.7 498.3L212.3 499.1L212.9 499.9L213.4 500.8L214.0 501.7L214.6 502.7L215.0 503.4L215.5 504.2L215.9 505.0L216.4 505.8L216.9 506.8L217.5 507.7L218.1 508.5L218.7 509.3L219.3 510.0L219.9 510.7L220.4 511.3L221.0 512.0L221.6 512.7L222.2 513.4L222.8 514.1L223.3 514.8L223.9 515.6L224.5 516.4L225.1 517.2L225.7 518.0L226.3 518.7L226.8 519.4L227.4 520.1L228.1 520.8L228.9 521.5L229.6 522.2L230.3 522.8L231.1 523.4L231.8 524.0L232.5 524.6L233.2 525.1L234.0 525.7L234.7 526.3L235.4 526.9L236.2 527.5L236.9 528.0L237.6 528.6L238.3 529.1L239.1 529.6L239.9 530.1L240.8 530.6L241.7 531.1L242.6 531.6L243.4 532.1L244.3 532.5L245.2 533.0L246.1 533.4L246.9 533.8L247.8 534.3L248.7 534.7L249.5 535.1L250.4 535.5L251.3 535.9L252.2 536.3L253.0 536.7L253.9 537.1L254.8 537.5L255.7 537.9L256.5 538.2L257.4 538.6L258.3 538.9L259.2 539.3L260.0 539.6L260.9 540.0L261.8 540.3L262.6 540.7L263.5 541.0L264.4 541.4L265.3 541.7L266.1 542.1L267.0 542.4L267.9 542.8L268.8 543.1L269.8 543.5L270.8 543.8L271.8 544.2L272.8 544.6L273.9 544.9L274.9 545.3L275.7 545.7L276.6 546.0L277.5 546.3L278.4 546.7L279.2 547.0L280.1 547.4L281.0 547.7L281.9 548.1L282.7 548.5L283.6 548.9L284.5 549.2L285.4 549.6L286.2 550.0L287.1 550.4L288.0 550.8L288.8 551.2L289.7 551.6L290.6 552.0L291.5 552.4L292.3 552.8L293.2 553.2L294.1 553.6M303.3 76.1L303.1 77.2L303.0 79.0L302.8 81.4L302.7 84.5L302.5 88.2L302.4 92.4L302.2 97.3L302.1 102.6L301.9 108.4L301.8 114.7L301.7 121.4L301.5 128.4L301.4 135.7L301.2 143.3L301.1 151.2L300.9 159.2L300.8 167.4L300.6 175.7L300.5 184.1L300.3 192.6L300.2 201.1L300.1 209.6L299.9 218.2L299.8 226.8L299.6 235.5L299.5 244.1L299.3 252.7L299.2 261.3L299.0 270.0L298.9 278.6L298.7 287.2L298.6 295.9L298.5 304.6L298.3 313.3L298.2 322.0L298.0 330.5L297.9 339.0L297.7 347.5L297.6 356.0L297.4 364.6L297.3 373.3L297.1 381.9L297.0 390.6L296.8 399.6L296.7 408.9L296.6 418.3L296.4 427.8L296.3 437.4L296.1 447.3L296.0 457.5L295.8 467.8L295.7 478.0L295.5 488.3L295.4 498.7L295.2 509.8L295.1 520.8L295.0 531.8L294.8 542.8L294.1 553.6M303.3 76.1L303.8 77.7L304.0 79.6L304.1 82.0L304.3 84.9L304.4 88.2L304.6 91.9L304.7 95.9L304.9 100.2L305.0 104.7L305.1 109.4L305.3 114.3L305.4 119.3L305.6 124.3L305.7 129.3L305.9 134.3L306.0 139.3L306.2 144.2L306.3 149.0L306.5 153.6L306.6 158.2L306.7 162.6L306.9 166.9L307.0 171.1L307.2 175.1L307.3 178.9L307.5 182.6L307.6 186.1L307.8 189.5L307.9 192.8L308.1 196.0L308.2 199.0L308.3 201.9L308.5 204.7L308.6 207.4L308.8 210.0L308.9 212.5L309.1 214.9L309.2 217.3L309.4 219.5L309.5 221.8L309.7 223.9L309.8 226.0L309.9 228.0L310.1 230.0L310.2 231.9L310.4 233.8L310.5 235.6L310.7 237.4L310.8 239.2L311.0 240.9L311.1 242.6L311.3 244.2L311.4 245.8L311.6 247.4L311.7 249.0L311.8 250.5L312.0 252.0L312.1 253.4L312.3 254.9L312.4 256.4L312.6 257.8L312.7 259.2L312.9 260.5L313.0 261.9L313.2 263.2L313.3 264.5L313.4 265.8L313.6 267.0L313.7 268.2L313.9 269.4L314.0 270.6L314.2 271.8L314.3 272.9L314.5 274.0L314.6 275.1L314.8 276.2L315.0 278.3L315.3 280.4L315.6 282.3L315.9 284.3L316.2 286.1L316.5 287.9L316.8 289.7L317.1 291.3L317.4 293.0L317.7 294.6L318.0 296.1L318.2 297.6L318.5 299.1L318.8 300.5L319.1 302.0L319.4 303.3L319.7 304.7L320.0 306.0L320.3 307.3L320.6 308.6L320.9 309.8L321.2 311.1L321.4 312.3L321.7 313.5L322.0 314.6L322.3 315.8L322.6 316.9L322.9 318.0L323.2 319.1L323.5 320.2L323.8 321.3L324.1 322.3L324.4 323.4L324.7 324.4L324.9 325.4L325.2 326.4L325.5 327.4L325.8 328.4L326.1 329.4L326.4 330.4L326.7 331.3L327.0 332.3L327.3 333.2L327.6 334.1L327.9 335.0L328.3 336.4L328.7 337.8L329.2 339.1L329.6 340.4L330.0 341.7L330.5 343.0L330.9 344.3L331.3 345.6L331.8 346.8L332.2 348.1L332.7 349.3L333.1 350.5L333.5 351.7L334.0 352.9L334.4 354.1L334.8 355.3L335.3 356.5L335.7 357.7L336.1 358.9L336.6 360.0L337.0 361.2L337.5 362.3L337.9 363.4L338.3 364.6L338.8 365.7L339.2 366.8L339.6 367.9L340.1 369.1L340.5 370.2L341.0 371.2L341.4 372.3L341.8 373.4L342.3 374.5L342.7 375.6L343.1 376.7L343.6 377.7L344.0 378.8L344.4 379.8L344.9 380.9L345.3 381.9L345.8 383.0L346.2 384.0L346.6 385.0L347.1 386.1L347.5 387.1L347.9 388.1L348.4 389.1L348.8 390.1L349.2 391.1L349.7 392.1L350.1 393.1L350.6 394.1L351.0 395.1L351.4 396.1L351.9 397.1L352.3 398.0L352.7 399.0L353.2 400.0L353.6 400.9L354.1 401.9L354.5 402.9L354.9 403.8L355.4 404.8L355.8 405.7L356.2 406.6L356.7 407.6L357.1 408.5L357.5 409.4L358.0 410.3L358.4 411.3L358.9 412.2L359.3 413.1L359.7 414.0L360.2 414.9L360.6 415.8L361.0 416.7L361.5 417.6L361.9 418.5L362.3 419.4L362.8 420.3L363.2 421.1L363.7 422.0L364.1 422.9L364.5 423.8L365.0 424.6L365.4 425.5L365.8 426.3L366.3 427.2L366.7 428.0L367.2 428.9L367.6 429.7L368.0 430.6L368.5 431.4L368.9 432.2L369.3 433.1L369.8 433.9L370.2 434.7L370.6 435.5L371.1 436.4L371.5 437.2L372.0 438.0L372.4 438.8L372.8 439.6L373.3 440.4L373.7 441.2L374.1 442.0L374.6 442.8L375.0 443.5L375.4 444.3L375.9 445.1L376.3 445.9L376.8 446.7L377.2 447.4L377.6 448.2L378.1 449.0L378.7 450.0L379.2 451.0L379.8 452.0L380.4 453.0L381.0 454.0L381.6 455.0L382.1 456.0L382.7 456.9L383.3 457.9L383.9 458.9L384.5 459.8L385.1 460.8L385.6 461.7L386.2 462.7L386.8 463.6L387.4 464.5L388.0 465.5L388.5 466.4L389.1 467.3L389.7 468.2L390.3 469.1L390.9 470.0L391.5 470.9L392.0 471.8L392.6 472.7L393.2 473.6L393.8 474.5L394.4 475.4L395.0 476.2L395.5 477.1L396.1 478.0L396.7 478.8L397.3 479.7L397.9 480.5L398.4 481.4L399.0 482.2L399.6 483.0L400.2 483.9L400.8 484.7L401.4 485.5L401.9 486.3L402.5 487.1L403.1 487.9L403.7 488.7L404.3 489.5L404.9 490.3L405.4 491.1L406.0 491.9L406.6 492.7L407.2 493.5L407.8 494.2L408.3 495.0L408.9 495.8L409.5 496.5L410.1 497.3L410.7 498.0L411.3 498.8L411.8 499.5L412.4 500.3L413.0 501.0L413.6 501.7L414.2 502.5L414.7 503.2L415.3 503.9L415.9 504.6L416.5 505.3L417.1 506.0L417.7 506.7L418.2 507.4L418.8 508.1L419.4 508.8L420.0 509.5L420.6 510.2L421.2 510.9L421.7 511.6L422.3 512.2L422.9 512.9L423.5 513.6L424.1 514.2L424.6 514.9L425.2 515.6L425.8 516.2L426.4 516.9L427.0 517.5L427.6 518.1L428.1 518.8L428.7 519.4L429.3 520.0L429.9 520.7L430.5 521.3L431.1 521.9L431.6 522.5L432.4 523.3L433.1 524.1L433.8 524.8L434.5 525.6L435.3 526.3L436.0 527.1L436.7 527.8L437.5 528.5L438.2 529.3L438.9 530.0L439.6 530.7L440.4 531.4L441.1 532.1L441.8 532.8L442.5 533.5L443.3 534.2L444.0 534.9L444.7 535.6L445.5 536.3L446.2 536.9L446.9 537.6L447.6 538.3L448.4 538.9L449.1 539.6L449.8 540.2L450.6 540.9L451.3 541.5L452.0 542.2L452.7 542.8L453.5 543.4L454.2 544.1L454.9 544.7L455.6 545.3L456.4 545.9L457.1 546.5L457.8 547.1L458.6 547.7L459.3 548.3L460.0 548.9L460.7 549.5L461.5 550.1L462.2 550.7L462.9 551.2L463.7 551.8L464.4 552.4L465.1 553.0L465.8 553.5L466.6 554.1L467.3 554.6L468.0 555.2L468.7 555.7M478.2 55.9L477.9 56.9L477.8 58.3L477.6 60.5L477.5 63.3L477.3 66.7L477.2 70.7L477.0 75.4L476.9 80.6L476.8 86.3L476.6 92.5L476.5 99.1L476.3 106.1L476.2 113.4L476.0 121.1L475.9 129.0L475.7 137.2L475.6 145.5L475.4 154.0L475.3 162.6L475.2 171.2L475.0 180.0L474.9 188.8L474.7 197.6L474.6 206.5L474.4 215.4L474.3 224.3L474.1 233.2L474.0 242.1L473.8 251.0L473.7 260.0L473.6 268.9L473.4 277.9L473.3 286.9L473.1 295.9L473.0 304.9L472.8 314.0L472.7 322.8L472.5 331.6L472.4 340.4L472.2 349.4L472.1 358.3L472.0 367.3L471.8 376.4L471.7 385.4L471.5 394.9L471.4 404.5L471.2 414.3L471.1 424.3L470.9 434.3L470.8 444.7L470.6 455.4L470.5 466.1L470.4 476.9L470.2 487.6L470.1 498.5L469.9 510.0L469.8 521.6L469.6 533.1L469.5 544.6L468.7 555.7M478.2 55.9L478.5 57.4L478.6 59.0L478.8 61.2L478.9 64.0L479.1 67.1L479.2 70.7L479.4 74.6L479.5 78.9L479.7 83.4L479.8 88.2L480.0 93.1L480.1 98.1L480.2 103.2L480.4 108.3L480.5 113.5L480.7 118.6L480.8 123.6L481.0 128.6L481.1 133.4L481.3 138.2L481.4 142.8L481.6 147.2L481.7 151.5L481.8 155.7L482.0 159.7L482.1 163.6L482.3 167.3L482.4 170.8L482.6 174.2L482.7 177.5L482.9 180.7L483.0 183.7L483.2 186.6L483.3 189.4L483.5 192.1L483.6 194.7L483.7 197.2L483.9 199.6L484.0 202.0L484.2 204.2L484.3 206.4L484.5 208.6L484.6 210.7L484.8 212.7L484.9 214.7L485.1 216.6L485.2 218.5L485.3 220.3L485.5 222.1L485.6 223.8L485.8 225.6L485.9 227.2L486.1 228.9L486.2 230.5L486.4 232.1L486.5 233.6L486.7 235.1L486.8 236.6L486.9 238.1L487.1 239.6L487.2 241.1L487.4 242.5L487.5 243.9L487.7 245.2L487.8 246.6L488.0 247.9L488.1 249.2L488.3 250.5L488.4 251.7L488.5 253.0L488.7 254.2L488.8 255.3L489.0 256.5L489.1 257.6L489.3 258.8L489.4 259.9L489.6 261.0L489.7 262.0L489.9 263.1L490.1 265.2L490.4 267.1L490.7 269.1L491.0 271.0L491.3 272.8L491.6 274.5L491.9 276.2L492.2 277.8L492.5 279.4L492.8 281.0L493.1 282.6L493.3 284.0L493.6 285.5L493.9 287.0L494.2 288.4L494.5 289.7L494.8 291.1L495.1 292.4L495.4 293.7L495.7 295.0L496.0 296.2L496.3 297.5L496.6 298.7L496.8 299.9L497.1 301.1L497.4 302.2L497.7 303.4L498.0 304.5L498.3 305.6L498.6 306.7L498.9 307.8L499.2 308.8L499.5 309.9L499.8 310.9L500.0 312.0L500.3 313.0L500.6 314.0L500.9 315.0L501.2 316.0L501.5 317.0L501.8 317.9L502.1 318.9L502.4 319.9L502.7 320.8L503.0 321.7L503.2 322.7L503.5 323.6L503.8 324.5L504.3 325.9L504.7 327.2L505.1 328.6L505.6 329.9L506.0 331.2L506.4 332.5L506.9 333.8L507.3 335.1L507.8 336.3L508.2 337.6L508.6 338.8L509.1 340.1L509.5 341.3L509.9 342.5L510.4 343.7L510.8 344.9L511.3 346.1L511.7 347.3L512.1 348.5L512.6 349.7L513.0 350.9L513.4 352.0L513.9 353.2L514.3 354.3L514.7 355.5L515.2 356.6L515.6 357.8L516.1 358.9L516.5 360.0L516.9 361.1L517.4 362.3L517.8 363.4L518.2 364.5L518.7 365.6L519.1 366.7L519.5 367.7L520.0 368.8L520.4 369.9L520.9 371.0L521.3 372.0L521.7 373.1L522.2 374.2L522.6 375.2L523.0 376.3L523.5 377.3L523.9 378.3L524.4 379.4L524.8 380.4L525.2 381.4L525.7 382.5L526.1 383.5L526.5 384.5L527.0 385.5L527.4 386.5L527.8 387.5L528.3 388.5L528.7 389.5L529.2 390.5L529.6 391.5L530.0 392.5L530.5 393.4L530.9 394.4L531.3 395.4L531.8 396.3L532.2 397.3L532.6 398.3L533.1 399.2L533.5 400.2L534.0 401.1L534.4 402.0L534.8 403.0L535.3 403.9L535.7 404.8L536.1 405.8L536.6 406.7L537.0 407.6L537.5 408.5L537.9 409.4L538.3 410.3L538.8 411.2L539.2 412.1L539.6 413.0L540.1 413.9L540.5 414.8L540.9 415.7L541.4 416.6L541.8 417.4L542.3 418.3L542.7 419.2L543.1 420.1L543.6 420.9L544.0 421.8L544.4 422.6L544.9 423.5L545.3 424.3L545.7 425.2L546.2 426.0L546.6 426.9L547.1 427.7L547.5 428.5L547.9 429.4L548.4 430.2L548.8 431.0L549.2 431.8L549.7 432.6L550.1 433.4L550.6 434.3L551.0 435.1L551.4 435.9L551.9 436.7L552.3 437.5L552.7 438.2L553.2 439.0L553.6 439.8L554.0 440.6L554.5 441.4L554.9 442.2L555.4 442.9L555.8 443.7L556.2 444.5L556.8 445.5L557.4 446.5L558.0 447.5L558.6 448.5L559.1 449.5L559.7 450.5L560.3 451.5L560.9 452.4L561.5 453.4L562.1 454.4L562.6 455.4L563.2 456.3L563.8 457.3L564.4 458.2L565.0 459.2L565.5 460.1L566.1 461.0L566.7 461.9L567.3 462.9L567.9 463.8L568.5 464.7L569.0 465.6L569.6 466.5L570.2 467.4L570.8 468.3L571.4 469.2L571.9 470.1L572.5 470.9L573.1 471.8L573.7 472.7L574.3 473.5L574.9 474.4L575.4 475.3L576.0 476.1L576.6 477.0L577.2 477.8L577.8 478.6L578.4 479.5L578.9 480.3L579.5 481.1L580.1 481.9L580.7 482.7L581.3 483.6L581.8 484.4L582.4 485.2L583.0 486.0L583.6 486.7L584.2 487.5L584.8 488.3L585.3 489.1L585.9 489.9L586.5 490.6L587.1 491.4L587.7 492.2L588.3 492.9L588.8 493.7L589.4 494.4L590.0 495.2L590.6 495.9L591.2 496.7L591.7 497.4L592.3 498.1L592.9 498.8L593.5 499.6L594.1 500.3L594.7 501.0L595.2 501.7L595.8 502.4L596.4 503.1L597.0 503.8L597.6 504.5L598.1 505.2L598.7 505.9L599.3 506.6L599.9 507.2L600.5 507.9L601.1 508.6L601.6 509.3L602.2 509.9L602.8 510.6L603.4 511.2L604.0 511.9L604.6 512.6L605.1 513.2L605.7 513.8L606.3 514.5L606.9 515.1L607.5 515.8L608.0 516.4L608.6 517.0L609.2 517.6L609.8 518.3L610.5 519.0L611.2 519.8L612.0 520.6L612.7 521.3L613.4 522.1L614.2 522.8L614.9 523.5L615.6 524.3L616.3 525.0L617.1 525.7L617.8 526.4L618.5 527.2L619.3 527.9L620.0 528.6L620.7 529.3L621.4 530.0L622.2 530.7L622.9 531.4L623.6 532.0L624.3 532.7L625.1 533.4L625.8 534.0L626.5 534.7L627.3 535.4L628.0 536.0L628.7 536.7L629.4 537.3L630.2 538.0L630.9 538.6L631.6 539.2L632.4 539.9L633.1 540.5L633.8 541.1L634.5 541.7L635.3 542.3L636.0 542.9L636.7 543.5L637.4 544.1L638.2 544.7L638.9 545.3L639.6 545.9L640.4 546.5L641.1 547.1L641.8 547.7L642.5 548.2L643.3 548.8L644.0 549.4M652.9 47.1L652.6 48.1L652.4 49.6L652.3 51.8L652.1 54.6L652.0 58.0L651.9 62.1L651.7 66.7L651.6 72.0L651.4 77.7L651.3 83.9L651.1 90.5L651.0 97.6L650.8 105.0L650.7 112.7L650.5 120.6L650.4 128.8L650.3 137.1L650.1 145.6L650.0 154.3L649.8 163.0L649.7 171.8L649.5 180.6L649.4 189.5L649.2 198.4L649.1 207.3L648.9 216.2L648.8 225.2L648.7 234.1L648.5 243.1L648.4 252.0L648.2 261.0L648.1 270.0L647.9 279.0L647.8 288.1L647.6 297.2L647.5 306.3L647.3 315.1L647.2 324.0L647.1 332.8L646.9 341.8L646.8 350.8L646.6 359.8L646.5 368.9L646.3 377.9L646.2 387.4L646.0 397.1L645.9 407.0L645.7 417.0L645.6 427.1L645.5 437.5L645.3 448.2L645.2 459.0L645.0 469.8L644.9 480.5L644.7 491.5L644.6 503.1L644.4 514.6L644.3 526.2L644.1 537.8L644.0 549.4M652.9 47.1L653.2 48.6L653.3 50.3L653.5 52.5L653.6 55.2L653.8 58.3L653.9 61.9L654.0 65.9L654.2 70.1L654.3 74.7L654.5 79.4L654.6 84.3L654.8 89.3L654.9 94.4L655.1 99.6L655.2 104.7L655.4 109.8L655.5 114.9L655.6 119.9L655.8 124.7L655.9 129.5L656.1 134.1L656.2 138.5L656.4 142.9L656.5 147.0L656.7 151.1L656.8 154.9L657.0 158.6L657.1 162.2L657.2 165.6L657.4 168.9L657.5 172.0L657.7 175.1L657.8 178.0L658.0 180.8L658.1 183.5L658.3 186.1L658.4 188.6L658.6 191.0L658.7 193.4L658.8 195.7L659.0 197.9L659.1 200.0L659.3 202.1L659.4 204.1L659.6 206.1L659.7 208.0L659.9 209.9L660.0 211.7L660.2 213.5L660.3 215.3L660.4 217.0L660.6 218.7L660.7 220.4L660.9 222.0L661.0 223.6L661.2 225.1L661.3 226.6L661.5 228.1L661.6 229.6L661.8 231.1L661.9 232.6L662.0 234.0L662.2 235.4L662.3 236.8L662.5 238.1L662.6 239.4L662.8 240.7L662.9 242.0L663.1 243.3L663.2 244.5L663.4 245.7L663.5 246.9L663.6 248.1L663.8 249.2L663.9 250.3L664.1 251.5L664.2 252.5L664.4 253.6L664.5 254.7L664.7 255.7L665.0 257.8L665.2 259.7L665.5 261.7L665.8 263.5L666.1 265.3L666.4 267.0L666.7 268.7L667.0 270.3L667.3 271.9L667.6 273.5L667.9 275.0L668.2 276.5L668.5 278.0L668.7 279.4L669.0 280.8L669.3 282.1L669.6 283.5L669.9 284.8L670.2 286.1L670.5 287.4L670.8 288.6L671.1 289.9L671.4 291.1L671.7 292.3L671.9 293.5L672.2 294.6L672.5 295.7L672.8 296.9L673.1 298.0L673.4 299.1L673.7 300.2L674.0 301.2L674.3 302.3L674.6 303.3L674.9 304.4L675.1 305.4L675.4 306.4L675.7 307.4L676.0 308.4L676.3 309.4L676.6 310.4L676.9 311.3L677.2 312.3L677.5 313.2L677.8 314.2L678.1 315.1L678.3 316.1L678.6 317.0L678.9 317.9L679.2 318.8L679.7 320.1L680.1 321.5L680.5 322.8L681.0 324.1L681.4 325.4L681.8 326.7L682.3 328.0L682.7 329.3L683.2 330.5L683.6 331.8L684.0 333.0L684.5 334.3L684.9 335.5L685.3 336.7L685.8 338.0L686.2 339.2L686.6 340.4L687.1 341.6L687.5 342.7L688.0 343.9L688.4 345.1L688.8 346.3L689.3 347.4L689.7 348.6L690.1 349.7L690.6 350.9L691.0 352.0L691.4 353.1L691.9 354.3L692.3 355.4L692.8 356.5L693.2 357.6L693.6 358.7L694.1 359.8L694.5 360.9L694.9 362.0L695.4 363.1L695.8 364.2L696.3 365.2L696.7 366.3L697.1 367.4L697.6 368.4L698.0 369.5L698.4 370.5L698.9 371.6L699.3 372.6L699.7 373.7L700.2 374.7L700.6 375.7L701.1 376.8L701.5 377.8L701.9 378.8L702.4 379.8L702.8 380.8L703.2 381.8L703.7 382.8L704.1 383.8L704.5 384.8L705.0 385.8L705.4 386.8L705.9 387.8L706.3 388.7L706.7 389.7L707.2 390.7L707.6 391.6L708.0 392.6L708.5 393.6L708.9 394.5L709.4 395.5L709.8 396.4L710.2 397.3L710.7 398.3L711.1 399.2L711.5 400.1L712.0 401.1L712.4 402.0L712.8 402.9L713.3 403.8L713.7 404.7L714.2 405.6L714.6 406.5L715.0 407.4L715.5 408.3L715.9 409.2L716.3 410.1L716.8 411.0L717.2 411.9L717.6 412.7L718.1 413.6L718.5 414.5L719.0 415.4L719.4 416.2L719.8 417.1L720.3 417.9L720.7 418.8L721.1 419.6L721.6 420.5L722.0 421.3L722.5 422.2L722.9 423.0L723.3 423.8L723.8 424.6L724.2 425.5L724.6 426.3L725.1 427.1L725.5 427.9L725.9 428.7L726.4 429.5L726.8 430.3L727.3 431.2L727.7 431.9L728.1 432.7L728.6 433.5L729.0 434.3L729.4 435.1L729.9 435.9L730.3 436.7L730.7 437.4L731.2 438.2L731.6 439.0L732.1 439.8L732.6 440.8L733.2 441.8L733.8 442.8L734.4 443.8L735.0 444.8L735.6 445.8L736.1 446.8L736.7 447.7L737.3 448.7L737.9 449.7L738.5 450.6L739.0 451.6L739.6 452.5L740.2 453.5L740.8 454.4L741.4 455.4L742.0 456.3L742.5 457.2L743.1 458.2L743.7 459.1L744.3 460.0L744.9 460.9L745.4 461.8L746.0 462.7L746.6 463.6L747.2 464.5L747.8 465.4L748.4 466.2L748.9 467.1L749.5 468.0L750.1 468.8L750.7 469.7L751.3 470.6L751.9 471.4L752.4 472.2L753.0 473.1L753.6 473.9L754.2 474.8L754.8 475.6L755.3 476.4L755.9 477.2L756.5 478.0L757.1 478.8L757.7 479.7L758.3 480.5L758.8 481.2L759.4 482.0L760.0 482.8L760.6 483.6L761.2 484.4L761.8 485.2L762.3 485.9L762.9 486.7L763.5 487.5L764.1 488.2L764.7 489.0L765.2 489.7L765.8 490.5L766.4 491.2L767.0 492.0L767.6 492.7L768.2 493.4L768.7 494.1L769.3 494.9L769.9 495.6L770.5 496.3L771.1 497.0L771.6 497.7L772.2 498.4L772.8 499.1L773.4 499.8L774.0 500.5L774.6 501.2L775.1 501.9L775.7 502.6L776.3 503.2L776.9 503.9L777.5 504.6L778.1 505.2L778.6 505.9L779.2 506.6L779.8 507.2L780.4 507.9L781.0 508.5L781.5 509.2L782.1 509.8L782.7 510.4L783.3 511.1L783.9 511.7L784.5 512.3L785.0 513.0L785.6 513.6L786.4 514.4L787.1 515.1L787.8 515.9L788.5 516.6L789.3 517.4L790.0 518.1L790.7 518.9L791.4 519.6L792.2 520.3L792.9 521.1L793.6 521.8L794.4 522.5L795.1 523.2L795.8 523.9L796.5 524.6L797.3 525.3L798.0 526.0L798.7 526.7L799.5 527.4L800.2 528.1L800.9 528.7L801.6 529.4L802.4 530.1L803.1 530.7L803.8 531.4L804.5 532.0L805.3 532.7L806.0 533.3L806.7 534.0L807.5 534.6L808.2 535.2L808.9 535.8L809.6 536.5L810.4 537.1L811.1 537.7L811.8 538.3L812.6 538.9L813.3 539.5L814.0 540.1L814.7 540.7L815.5 541.3L816.2 541.9L816.9 542.5L817.6 543.0L818.4 543.6M827.5 42.4L827.3 43.3L827.1 44.8L827.0 46.9L826.8 49.7L826.7 53.1L826.5 57.2L826.4 61.8L826.2 67.0L826.1 72.7L825.9 78.9L825.8 85.6L825.7 92.6L825.5 100.0L825.4 107.7L825.2 115.6L825.1 123.8L824.9 132.1L824.8 140.6L824.6 149.3L824.5 158.0L824.3 166.7L824.2 175.6L824.0 184.4L823.9 193.3L823.8 202.3L823.6 211.2L823.5 220.1L823.3 229.0L823.2 238.0L823.0 247.0L822.9 255.9L822.7 264.9L822.6 273.9L822.4 283.0L822.3 292.0L822.2 301.1L822.0 310.0L821.9 318.8L821.7 327.6L821.6 336.6L821.4 345.5L821.3 354.6L821.1 363.6L821.0 372.7L820.8 382.2L820.7 391.9L820.6 401.7L820.4 411.7L820.3 421.7L820.1 432.1L820.0 442.9L819.8 453.6L819.7 464.4L819.5 475.1L819.4 486.1L819.2 497.6L819.1 509.2L819.0 520.7L818.8 532.3L818.4 543.6M827.5 42.4L827.8 44.0L828.0 45.6L828.1 47.9L828.3 50.6L828.4 53.8L828.6 57.5L828.7 61.4L828.9 65.7L829.0 70.3L829.1 75.1L829.3 80.1L829.4 85.1L829.6 90.3L829.7 95.5L829.9 100.6L830.0 105.8L830.2 110.9L830.3 115.9L830.5 120.8L830.6 125.6L830.7 130.2L830.9 134.7L831.0 139.1L831.2 143.3L831.3 147.3L831.5 151.2L831.6 154.9L831.8 158.5L831.9 162.0L832.1 165.3L832.2 168.5L832.3 171.5L832.5 174.5L832.6 177.3L832.8 180.0L832.9 182.6L833.1 185.2L833.2 187.6L833.4 190.0L833.5 192.3L833.7 194.5L833.8 196.6L833.9 198.7L834.1 200.8L834.2 202.8L834.4 204.7L834.5 206.6L834.7 208.5L834.8 210.3L835.0 212.0L835.1 213.8L835.3 215.5L835.4 217.1L835.5 218.7L835.7 220.3L835.8 221.9L836.0 223.4L836.1 224.9L836.3 226.5L836.4 228.0L836.6 229.4L836.7 230.8L836.9 232.2L837.0 233.6L837.1 235.0L837.3 236.3L837.4 237.6L837.6 238.9L837.7 240.2L837.9 241.4L838.0 242.6L838.2 243.8L838.3 245.0L838.5 246.1L838.6 247.3L838.8 248.4L838.9 249.5L839.0 250.6L839.2 251.6L839.3 252.7L839.6 254.7L839.9 256.7L840.2 258.6L840.5 260.5L840.8 262.3L841.1 264.0L841.4 265.7L841.7 267.3L842.0 268.9L842.2 270.5L842.5 272.0L842.8 273.5L843.1 275.0L843.4 276.4L843.7 277.8L844.0 279.1L844.3 280.5L844.6 281.8L844.9 283.1L845.2 284.4L845.4 285.6L845.7 286.9L846.0 288.1L846.3 289.3L846.6 290.4L846.9 291.6L847.2 292.7L847.5 293.9L847.8 295.0L848.1 296.1L848.4 297.1L848.6 298.2L848.9 299.3L849.2 300.3L849.5 301.3L849.8 302.4L850.1 303.4L850.4 304.4L850.7 305.4L851.0 306.3L851.3 307.3L851.6 308.3L851.9 309.2L852.1 310.2L852.4 311.1L852.7 312.1L853.0 313.0L853.3 313.9L853.7 315.3L854.2 316.6L854.6 318.0L855.1 319.3L855.5 320.6L855.9 321.9L856.4 323.2L856.8 324.5L857.2 325.7L857.7 327.0L858.1 328.3L858.5 329.5L859.0 330.7L859.4 332.0L859.9 333.2L860.3 334.4L860.7 335.6L861.2 336.8L861.6 338.0L862.0 339.2L862.5 340.3L862.9 341.5L863.3 342.7L863.8 343.8L864.2 345.0L864.7 346.1L865.1 347.3L865.5 348.4L866.0 349.5L866.4 350.6L866.8 351.8L867.3 352.9L867.7 354.0L868.2 355.1L868.6 356.2L869.0 357.3L869.5 358.3L869.9 359.4L870.3 360.5L870.8 361.6L871.2 362.6L871.6 363.7L872.1 364.8L872.5 365.8L873.0 366.9L873.4 367.9L873.8 368.9L874.3 370.0L874.7 371.0L875.1 372.0L875.6 373.1L876.0 374.1L876.4 375.1L876.9 376.1L877.3 377.1L877.8 378.1L878.2 379.1L878.6 380.1L879.1 381.1L879.5 382.1L879.9 383.1L880.4 384.0L880.8 385.0L881.3 386.0L881.7 386.9L882.1 387.9L882.6 388.8L883.0 389.8L883.4 390.7L883.9 391.7L884.3 392.6L884.7 393.6L885.2 394.5L885.6 395.4L886.1 396.4L886.5 397.3L886.9 398.2L887.4 399.1L887.8 400.0L888.2 400.9L888.7 401.8L889.1 402.7L889.5 403.6L890.0 404.5L890.4 405.4L890.9 406.3L891.3 407.2L891.7 408.0L892.2 408.9L892.6 409.8L893.0 410.7L893.5 411.5L893.9 412.4L894.4 413.2L894.8 414.1L895.2 414.9L895.7 415.8L896.1 416.6L896.5 417.5L897.0 418.3L897.4 419.1L897.8 420.0L898.3 420.8L898.7 421.6L899.2 422.4L899.6 423.2L900.0 424.1L900.5 424.9L900.9 425.7L901.3 426.5L901.8 427.3L902.2 428.1L902.6 428.9L903.1 429.6L903.5 430.4L904.0 431.2L904.4 432.0L904.8 432.8L905.3 433.5L905.7 434.3L906.1 435.1L906.6 435.8L907.2 436.9L907.7 437.9L908.3 438.9L908.9 439.9L909.5 440.9L910.1 441.8L910.7 442.8L911.2 443.8L911.8 444.8L912.4 445.7L913.0 446.7L913.6 447.7L914.1 448.6L914.7 449.5L915.3 450.5L915.9 451.4L916.5 452.4L917.1 453.3L917.6 454.2L918.2 455.1L918.8 456.0L919.4 456.9L920.0 457.8L920.6 458.7L921.1 459.6L921.7 460.5L922.3 461.4L922.9 462.2L923.5 463.1L924.0 464.0L924.6 464.8L925.2 465.7L925.8 466.6L926.4 467.4L927.0 468.2L927.5 469.1L928.1 469.9L928.7 470.7L929.3 471.6L929.9 472.4L930.5 473.2L931.0 474.0L931.6 474.8L932.2 475.6L932.8 476.4L933.4 477.2L933.9 478.0L934.5 478.8L935.1 479.6L935.7 480.4L936.3 481.1L936.9 481.9L937.4 482.7L938.0 483.4L938.6 484.2L939.2 484.9L939.8 485.7L940.3 486.4L940.9 487.2L941.5 487.9L942.1 488.6L942.7 489.4L943.3 490.1L943.8 490.8L944.4 491.5L945.0 492.2L945.6 492.9L946.2 493.7L946.8 494.4L947.3 495.0L947.9 495.7L948.5 496.4L949.1 497.1L949.7 497.8L950.2 498.5L950.8 499.2L951.4 499.8L952.0 500.5L952.6 501.2L953.2 501.8L953.7 502.5L954.3 503.1L954.9 503.8L955.5 504.4L956.1 505.1L956.7 505.7L957.2 506.4L957.8 507.0L958.4 507.6L959.0 508.2L959.6 508.9L960.1 509.5L960.9 510.3L961.6 511.0L962.3 511.8L963.1 512.5L963.8 513.3L964.5 514.0L965.2 514.8L966.0 515.5L966.7 516.2L967.4 517.0L968.1 517.7L968.9 518.4L969.6 519.1L970.3 519.8L971.1 520.5L971.8 521.2L972.5 521.9L973.2 522.6L974.0 523.3L974.7 523.9L975.4 524.6L976.2 525.3L976.9 525.9L977.6 526.6L978.3 527.3L979.1 527.9L979.8 528.5L980.5 529.2L981.2 529.8L982.0 530.5L982.7 531.1L983.4 531.7L984.2 532.3L984.9 533.0L985.6 533.6L986.3 534.2L987.1 534.8L987.8 535.4L988.5 536.0L989.3 536.6L990.0 537.2L990.7 537.7L991.4 538.3L992.2 538.9L992.9 539.5L993.6 540.0L994.3 540.6L995.1 541.2L995.8 541.7L996.5 542.3L997.3 542.8L998.0 543.4L998.7 543.9L999.4 544.5L1000.2 545.0L1000.9 545.5L1001.6 546.1L1002.4 546.6L1003.1 547.1L1003.8 547.6L1004.5 548.1L1005.3 548.6L1006.0 549.1L1006.7 549.7L1007.4 550.2L1008.2 550.7L1008.9 551.1L1009.6 551.6L1010.4 552.1L1011.1 552.6L1011.8 553.1L1012.5 553.6L1013.3 554.0L1014.1 554.6L1015.0 555.2L1015.9 555.7L1016.8 556.3L1017.6 556.8L1018.5 557.4L1019.4 557.9L1020.3 558.4L1021.1 559.0L1022.0 559.5L1022.9 560.0L1023.8 560.5L1024.6 561.1L1025.5 561.6L1026.4 562.1L1027.2 562.6L1028.1 563.1L1029.0 563.6L1029.9 564.1L1030.7 564.5L1031.6 565.0L1032.5 565.5L1033.4 566.0L1034.2 566.5L1035.1 566.9L1036.0 567.4L1036.9 567.8L1037.7 568.3L1038.6 568.7L1039.5 569.2L1040.3 569.6L1041.2 570.1L1042.1 570.5L1043.0 571.0L1043.8 571.4L1044.7 571.8L1045.6 572.2L1046.5 572.7L1047.3 573.1L1048.2 573.5L1049.1 573.9L1050.0 574.3L1050.8 574.7L1051.7 575.1L1052.6 575.5L1053.4 575.9L1054.3 576.3L1055.2 576.7L1056.1 577.1L1056.9 577.5L1057.8 577.8L1058.7 578.2L1059.6 578.6L1060.4 579.0L1061.3 579.3L1062.2 579.7L1063.1 580.1L1063.9 580.4L1064.8 580.8L1065.7 581.1L1066.5 581.5L1067.4 581.8L1068.3 582.2L1069.2 582.5L1070.0 582.9L1070.9 583.2L1071.8 583.5L1072.7 583.9L1073.5 584.2L1074.4 584.5L1075.4 584.9L1076.4 585.3L1077.5 585.7L1078.5 586.0L1079.5 586.4L1080.5 586.8L1081.5 587.1L1082.6 587.5L1083.6 587.8L1084.6 588.2L1085.6 588.5L1086.6 588.9L1087.6 589.2L1088.7 589.5L1089.7 589.9L1090.7 590.2L1091.7 590.5L1092.7 590.8L1093.8 591.2L1094.8 591.5L1095.8 591.8L1096.8 592.1L1097.8 592.4L1098.9 592.7L1099.9 593.0L1100.9 593.3L1101.9 593.6L1102.9 593.9L1104.0 594.2L1105.0 594.5L1106.0 594.8L1107.0 595.1L1108.0 595.4L1109.0 595.7L1110.1 595.9L1111.1 596.2L1112.1 596.5L1113.1 596.8L1114.1 597.0L1115.2 597.3L1116.2 597.5L1117.2 597.8L1118.2 598.1L1119.2 598.3L1120.3 598.6L1121.3 598.8L1122.3 599.1L1123.3 599.3L1124.3 599.6L1125.3 599.8L1126.4 600.1L1127.4 600.3L1128.4 600.5L1129.4 600.8L1130.4 601.0L1131.5 601.2L1132.5 601.5L1133.5 601.7L1134.5 601.9L1135.5 602.1L1136.6 602.4L1137.6 602.6L1138.6 602.8L1139.6 603.0L1140.6 603.2L1141.7 603.4L1142.7 603.6L1143.7 603.8L1144.7 604.0L1145.7 604.3L1146.7 604.5L1147.8 604.7L1148.8 604.9L1149.8 605.0L1150.8 605.2L1151.8 605.4L1152.9 605.6L1153.9 605.8L1154.9 606.0L1155.9 606.2L1156.9 606.4L1158.0 606.6L1159.0 606.7L1160.1 606.9L1161.3 607.2L1162.5 607.4L1163.6 607.6L1164.8 607.7L1166.0 607.9L1167.1 608.1L1168.0 608.3" fill="none" stroke="#000" stroke-width="3.8" stroke-linecap="round" stroke-dasharray="0 7.75"/>
<path d="M120.0 647.0L120.1 634.1L120.3 621.2L120.4 608.2L120.6 595.3L120.7 582.4L120.9 570.6L121.0 558.8L121.2 547.0L121.3 535.2L121.5 523.4L121.6 512.5L121.7 501.6L121.9 489.9L122.0 478.7L122.2 468.0L122.3 458.3L122.5 448.8L122.6 439.7L122.8 430.8L122.9 422.2L123.1 414.0L123.2 405.9L123.3 398.1L123.5 390.3L123.6 381.9L123.8 373.5L123.9 365.1L124.1 356.7L124.2 348.4L124.4 340.1L124.5 331.8L124.7 323.6L124.8 315.5L124.9 307.4L125.1 299.4L125.2 291.4L125.4 283.5L125.5 275.7L125.7 268.0L125.8 260.3L126.0 252.7L126.1 245.2L126.3 237.8L126.4 230.6L126.5 223.4L126.7 216.4L126.8 209.5L127.0 202.7L127.1 196.2L127.3 189.8L127.4 183.7L127.6 177.8L127.7 172.2L127.9 166.9L128.0 161.9L128.2 157.2L128.3 152.9L128.4 149.0L128.6 145.5M128.6 145.5L128.7 142.5L128.9 139.9L129.0 137.7L129.2 136.0L129.3 134.9L129.6 133.9L129.9 134.9L130.0 136.1L130.2 137.7L130.3 139.7L130.5 142.1L130.6 144.8L130.8 147.8L130.9 151.2L131.1 154.8L131.2 158.6L131.4 162.5L131.5 166.6L131.6 170.8L131.8 175.1L131.9 179.5L132.1 183.8L132.2 188.2L132.4 192.5L132.5 196.7L132.7 200.9L132.8 205.0L133.0 209.0L133.1 212.9L133.2 216.7L133.4 220.4L133.5 224.0L133.7 227.4L133.8 230.8L134.0 234.0L134.1 237.2L134.3 240.2L134.4 243.1L134.6 246.0L134.7 248.7L134.8 251.4L135.0 254.1L135.1 256.6L135.3 259.1L135.4 261.5L135.6 263.9L135.7 266.2L135.9 268.5L136.0 270.8L136.2 273.0L136.3 275.1L136.4 277.3L136.6 279.4L136.7 281.4L136.9 283.5L137.0 285.5L137.2 287.5L137.3 289.4L137.5 291.3L137.6 293.3L137.8 295.3L137.9 297.3L138.0 299.3L138.2 301.3L138.3 303.2L138.5 305.1L138.6 307.0L138.8 308.8L138.9 310.7L139.1 312.4L139.2 314.1L139.4 315.8L139.5 317.5L139.6 319.2L139.8 320.7L139.9 322.2L140.1 323.7L140.2 325.1L140.4 326.5L140.5 327.8L140.7 328.9L140.8 330.1L141.0 331.2L141.1 332.3L141.4 334.1L141.7 335.9L142.0 337.4L142.3 338.9L142.6 340.3L142.9 341.8L143.1 343.2L143.4 344.7L143.7 346.1L144.0 347.5L144.3 348.9L144.6 350.3L144.9 351.6L145.2 353.0L145.5 354.3L145.8 355.7L146.1 357.0L146.3 358.3L146.6 359.6L146.9 361.0L147.2 362.3L147.5 363.6L147.8 364.9L148.1 366.3L148.4 367.6L148.7 368.9L149.0 370.3L149.3 371.6L149.5 373.0L149.8 374.4L150.1 375.8L150.4 377.2L150.7 378.6L151.0 380.1L151.3 381.5L151.6 383.1L151.9 384.6L152.2 386.1L152.5 387.7L152.7 389.3L153.0 391.0L153.3 392.6L153.6 394.3L153.9 395.9L154.2 397.6L154.5 399.3L154.8 400.9L155.1 402.6L155.4 404.2L155.7 405.9L156.0 407.5L156.2 409.1L156.5 410.7L156.8 412.3L157.1 413.9L157.4 415.4L157.7 416.8L158.0 418.3L158.3 419.7L158.6 421.1L158.9 422.4L159.2 423.7L159.4 424.9L159.7 426.1L160.0 427.3L160.3 428.5L160.6 429.6L160.9 430.8L161.2 432.0L161.5 433.1L161.8 434.2L162.1 435.3L162.4 436.4L162.6 437.5L162.9 438.5L163.2 439.5L163.5 440.5L163.8 441.5L164.1 442.5L164.4 443.4L164.8 444.7L165.3 446.0L165.7 447.1L166.1 448.2L166.6 449.2L167.0 450.1L167.5 450.9L167.9 451.7L168.5 452.7L169.1 453.6L169.6 454.4L170.2 455.2L170.8 456.0L171.4 456.8L172.0 457.6L172.5 458.5L173.1 459.3L173.7 460.2L174.3 461.1L174.9 462.0L175.5 462.9L176.0 463.8L176.6 464.7L177.2 465.7L177.8 466.6L178.4 467.6L178.9 468.6L179.4 469.4L179.8 470.2L180.3 471.0L180.7 471.9L181.1 472.7L181.6 473.7L182.0 474.7L182.4 475.8L182.9 476.9L183.3 478.1L183.8 479.2L184.2 480.4L184.6 481.6L185.1 482.8L185.5 483.9L185.9 485.1L186.4 486.2L186.8 487.3L187.2 488.3L187.7 489.4L188.1 490.5L188.6 491.6L189.0 492.6L189.4 493.7L189.9 494.7L190.3 495.7L190.7 496.8L191.2 497.7L191.6 498.7L192.0 499.6L192.5 500.5L192.9 501.4L193.4 502.2L193.8 503.0L194.2 503.8L194.7 504.6L195.1 505.4L195.5 506.2L196.0 506.9L196.4 507.7L196.9 508.5L197.3 509.3L197.7 510.1L198.2 510.9L198.6 511.7L199.0 512.5L199.5 513.4L199.9 514.3L200.3 515.2L200.8 516.1L201.2 517.0L201.7 517.9L202.1 518.8L202.5 519.7L203.0 520.7L203.4 521.6L203.8 522.6L204.3 523.5L204.7 524.4L205.1 525.4L205.6 526.3L206.0 527.2L206.5 528.2L206.9 529.1L207.3 530.0L207.8 530.9L208.2 531.8L208.6 532.7L209.1 533.5L209.5 534.4L210.0 535.2L210.4 536.0L210.8 536.8L211.3 537.6L211.7 538.4L212.3 539.4L212.9 540.4L213.4 541.4L214.0 542.4L214.6 543.4L215.2 544.3L215.8 545.3L216.4 546.2L216.9 547.2L217.5 548.2L218.1 549.2L218.7 550.2L219.1 551.0L219.6 551.7L220.0 552.5L220.4 553.3L220.9 554.1L221.3 554.9L221.9 555.9L222.5 556.9L223.1 557.8L223.6 558.7L224.2 559.5L224.8 560.3L225.4 560.9L226.0 561.6L226.7 562.3L227.4 563.0L228.1 563.8L228.9 564.4L229.6 565.1L230.3 565.8L231.1 566.4L231.8 567.0L232.5 567.6L233.2 568.2L234.0 568.8L234.7 569.4L235.4 569.9L236.2 570.4L236.9 571.0L237.6 571.5L238.3 571.9L239.1 572.4L239.9 573.0L240.8 573.5L241.7 574.1L242.6 574.6L243.4 575.1L244.3 575.5L245.2 576.0L246.1 576.5L246.9 576.9L247.8 577.4L248.7 577.8L249.5 578.2L250.4 578.6L251.3 579.0L252.2 579.4L253.0 579.7L253.9 580.1L254.8 580.4L255.7 580.7L256.7 581.1L257.7 581.5L258.7 581.9L259.7 582.2L260.8 582.6L261.8 582.9L262.8 583.3L263.8 583.7L264.8 584.0L265.8 584.4L266.9 584.7L267.9 585.0L268.9 585.4L269.9 585.7L270.9 586.1L272.0 586.5L273.0 586.8L274.0 587.2L275.0 587.6L276.0 588.0L277.1 588.3L277.9 588.7L278.8 589.0L279.7 589.3L280.5 589.7L281.4 590.0L282.3 590.3L283.2 590.6L284.0 591.0L284.9 591.3L285.8 591.6L286.7 592.0L287.5 592.3L288.6 592.7L289.6 593.0L290.6 593.4L291.6 593.8L292.6 594.9L292.9 596.5L293.2 598.1L293.4 599.9L293.5 601.8L293.6 603.7L293.8 605.6L293.9 607.5L294.1 609.4L294.2 611.3L294.4 613.1L294.5 615.0L294.7 616.9L294.8 603.9L295.0 590.9L295.1 578.0L295.2 565.0L295.4 552.0L295.5 540.1L295.7 528.2L295.8 516.4L296.0 504.5L296.1 492.6L296.3 481.7L296.4 470.7L296.6 459.8L296.7 449.1L296.8 438.7L297.0 428.8L297.1 419.1L297.3 409.3L297.4 399.6L297.6 390.0L297.7 380.5L297.9 371.0L298.0 361.5L298.2 351.9L298.3 342.1L298.5 332.3L298.6 322.5L298.7 312.8L298.9 303.1L299.0 293.4L299.2 283.7L299.3 274.0L299.5 264.4L299.6 254.8L299.8 245.2L299.9 235.7L300.1 226.2L300.2 216.8L300.3 207.5L300.5 198.4L300.6 189.4L300.8 180.6L300.9 172.1L301.1 163.8L301.2 155.9L301.4 148.3L301.5 141.2L301.7 134.5L301.8 128.3L301.9 122.7L302.1 117.7L302.2 113.3M302.2 113.3L302.4 109.5L302.5 106.4L302.7 104.1L302.8 102.4L303.1 101.1L303.4 102.5L303.5 104.1L303.7 106.4L303.8 109.1L304.0 112.3L304.1 116.0L304.3 120.0L304.4 124.4L304.6 129.0L304.7 133.9L304.9 138.9L305.0 144.0L305.1 149.2L305.3 154.4L305.4 159.6L305.6 164.8L305.7 169.9L305.9 174.9L306.0 179.7L306.2 184.5L306.3 189.0L306.5 193.5L306.6 197.7L306.7 201.8L306.9 205.7L307.0 209.4L307.2 213.0L307.3 216.4L307.5 219.7L307.6 222.8L307.8 225.8L307.9 228.6L308.1 231.4L308.2 234.0L308.3 236.5L308.5 238.8L308.6 241.1L308.8 243.4L308.9 245.5L309.1 247.5L309.2 249.5L309.4 251.4L309.5 253.3L309.7 255.1L309.8 256.9L309.9 258.6L310.1 260.2L310.2 261.9L310.4 263.4L310.5 265.0L310.7 266.5L310.8 268.0L311.0 269.4L311.1 270.8L311.3 272.2L311.4 273.6L311.6 274.9L311.7 276.3L311.8 277.6L312.0 278.8L312.1 280.1L312.3 281.3L312.4 282.6L312.6 283.8L312.7 285.0L312.9 286.2L313.0 287.3L313.2 288.5L313.3 289.6L313.4 290.7L313.6 291.8L313.7 292.9L313.9 293.9L314.2 296.0L314.5 298.1L314.8 300.0L315.0 302.0L315.3 303.8L315.6 305.7L315.9 307.5L316.2 309.3L316.5 311.0L316.8 312.7L317.1 314.4L317.4 316.0L317.7 317.6L318.0 319.2L318.2 320.8L318.5 322.4L318.8 323.9L319.1 325.4L319.4 326.9L319.7 328.4L320.0 329.9L320.3 331.3L320.6 332.8L320.9 334.2L321.2 335.6L321.4 337.0L321.7 338.4L322.0 339.8L322.3 341.2L322.6 342.5L322.9 343.9L323.2 345.2L323.5 346.6L323.8 347.9L324.1 349.2L324.4 350.5L324.7 351.8L324.9 353.1L325.2 354.4L325.5 355.7L325.8 356.9L326.1 358.2L326.4 359.4L326.7 360.7L327.0 361.9L327.3 363.2L327.6 364.4L327.9 365.6L328.1 366.8L328.4 368.0L328.7 369.2L329.0 370.4L329.3 371.6L329.6 372.8L329.9 374.0L330.2 375.1L330.5 376.3L330.8 377.4L331.1 378.6L331.3 379.7L331.6 380.9L331.9 382.0L332.2 383.2L332.5 384.3L332.8 385.4L333.1 386.5L333.4 387.6L333.7 388.7L334.0 389.8L334.3 390.9L334.5 392.0L334.8 393.1L335.1 394.2L335.4 395.3L335.7 396.3L336.0 397.4L336.3 398.5L336.6 399.5L336.9 400.6L337.2 401.6L337.5 402.6L337.8 403.7L338.0 404.7L338.3 405.7L338.6 406.8L338.9 407.8L339.2 408.8L339.5 409.8L339.8 410.8L340.1 411.8L340.4 412.8L340.7 413.8L341.0 414.8L341.2 415.8L341.5 416.7L341.8 417.7L342.1 418.7L342.4 419.6L342.7 420.6L343.0 421.6L343.3 422.5L343.6 423.5L343.9 424.4L344.2 425.3L344.4 426.3L344.7 427.2L345.0 428.1L345.3 429.0L345.6 430.0L345.9 430.9L346.2 431.8L346.6 433.1L347.1 434.5L347.5 435.8L347.9 437.2L348.4 438.5L348.8 439.8L349.2 441.1L349.7 442.4L350.1 443.7L350.6 445.0L351.0 446.2L351.4 447.5L351.9 448.7L352.3 450.0L352.7 451.2L353.2 452.4L353.6 453.7L354.1 454.9L354.5 456.1L354.9 457.3L355.4 458.5L355.8 459.6L356.2 460.8L356.7 462.0L357.1 463.1L357.5 464.3L358.0 465.4L358.4 466.5L358.9 467.7L359.3 468.8L359.7 469.9L360.2 471.0L360.6 472.1L361.0 473.2L361.5 474.3L361.9 475.3L362.3 476.4L362.8 477.5L363.2 478.5L363.7 479.6L364.1 480.6L364.5 481.6L365.0 482.6L365.4 483.7L365.8 484.7L366.3 485.7L366.7 486.7L367.2 487.7L367.6 488.7L368.0 489.6L368.5 490.6L368.9 491.6L369.3 492.5L369.8 493.5L370.2 494.4L370.6 495.4L371.1 496.3L371.5 497.2L372.0 498.1L372.4 499.1L372.8 500.0L373.3 500.9L373.7 501.8L374.1 502.7L374.6 503.5L375.0 504.4L375.4 505.3L375.9 506.2L376.3 507.0L376.8 507.9L377.2 508.7L377.6 509.6L378.1 510.4L378.5 511.2L378.9 512.1L379.4 512.9L379.8 513.7L380.3 514.5L380.7 515.3L381.1 516.1L381.6 516.9L382.0 517.7L382.4 518.5L382.9 519.3L383.3 520.0L383.7 520.8L384.2 521.6L384.8 522.6L385.3 523.6L385.9 524.6L386.5 525.6L387.1 526.6L387.7 527.5L388.3 528.5L388.8 529.4L389.4 530.4L390.0 531.3L390.6 532.2L391.2 533.1L391.8 534.1L392.3 535.0L392.9 535.8L393.5 536.7L394.1 537.6L394.7 538.5L395.2 539.3L395.8 540.2L396.4 541.0L397.0 541.9L397.6 542.7L398.2 543.5L398.7 544.4L399.3 545.2L399.9 546.0L400.5 546.8L401.1 547.6L401.6 548.3L402.2 549.1L402.8 549.9L403.4 550.6L404.0 551.4L404.6 552.2L405.1 552.9L405.7 553.6L406.3 554.4L406.9 555.1L407.5 555.8L408.1 556.5L408.6 557.2L409.2 557.9L409.8 558.6L410.4 559.3L411.0 560.0L411.5 560.6L412.1 561.3L412.7 562.0L413.3 562.6L413.9 563.3L414.5 563.9L415.0 564.6L415.6 565.2L416.2 565.8L416.8 566.5L417.5 567.2L418.2 568.0L419.0 568.7L419.7 569.5L420.4 570.2L421.2 571.0L421.9 571.7L422.6 572.4L423.3 573.1L424.1 573.8L424.8 574.5L425.5 575.2L426.2 575.8L427.0 576.5L427.7 577.2L428.4 577.8L429.2 578.5L429.9 579.1L430.6 579.7L431.3 580.4L432.1 581.0L432.8 581.6L433.5 582.2L434.3 582.8L435.0 583.4L435.7 584.0L436.4 584.6L437.2 585.1L437.9 585.7L438.6 586.3L439.3 586.8L440.1 587.4L440.8 587.9L441.5 588.5L442.3 589.0L443.0 589.5L443.7 590.0L444.4 590.6L445.2 591.1L445.9 591.6L446.6 592.1L447.4 592.6L448.1 593.1L448.8 593.5L449.5 594.0L450.3 594.5L451.1 595.1L452.0 595.6L452.9 596.2L453.8 596.7L454.6 597.2L455.5 597.7L456.4 598.3L457.3 598.8L458.1 599.3L459.0 599.8L459.9 600.3L460.7 600.8L461.6 601.2L462.5 601.7L463.4 602.2L464.2 602.7L465.1 603.1L466.0 603.6L466.9 604.0L467.7 604.4L468.6 604.9L469.5 592.3L469.6 579.4L469.8 566.5L469.9 553.5L470.1 540.6L470.2 528.8L470.4 517.0L470.5 505.2L470.6 493.4L470.8 481.6L470.9 470.6L471.1 459.8L471.2 449.0L471.4 438.4L471.5 428.0L471.7 418.2L471.8 408.5L472.0 398.8L472.1 389.1L472.2 379.5L472.4 370.1L472.5 360.6L472.7 351.1L472.8 341.6L473.0 331.8L473.1 322.0L473.3 312.3L473.4 302.6L473.6 292.9L473.7 283.2L473.8 273.6L474.0 263.9L474.1 254.3L474.3 244.7L474.4 235.2L474.6 225.7L474.7 216.3L474.9 206.9L475.0 197.7L475.2 188.5L475.3 179.6L475.4 170.8L475.6 162.3L475.7 154.1L475.9 146.2L476.0 138.6L476.2 131.5L476.3 124.8L476.5 118.7L476.6 113.1L476.8 108.1L476.9 103.8M476.9 103.8L477.0 100.1L477.2 97.1L477.3 94.7L477.5 93.1L477.8 92.0L478.1 93.5L478.2 95.3L478.4 97.6L478.5 100.4L478.6 103.7L478.8 107.4L478.9 111.6L479.1 116.0L479.2 120.8L479.4 125.7L479.5 130.8L479.7 136.0L479.8 141.3L480.0 146.6L480.1 151.9L480.2 157.1L480.4 162.3L480.5 167.4L480.7 172.3L480.8 177.1L481.0 181.8L481.1 186.3L481.3 190.6L481.4 194.7L481.6 198.7L481.7 202.5L481.8 206.2L482.0 209.6L482.1 213.0L482.3 216.1L482.4 219.2L482.6 222.0L482.7 224.8L482.9 227.5L483.0 230.0L483.2 232.4L483.3 234.8L483.5 237.0L483.6 239.2L483.7 241.3L483.9 243.3L484.0 245.2L484.2 247.1L484.3 249.0L484.5 250.7L484.6 252.5L484.8 254.2L484.9 255.8L485.1 257.4L485.2 259.0L485.3 260.5L485.5 262.0L485.6 263.5L485.8 265.0L485.9 266.4L486.1 267.8L486.2 269.1L486.4 270.5L486.5 271.8L486.7 273.1L486.8 274.3L486.9 275.6L487.1 276.9L487.2 278.1L487.4 279.3L487.5 280.5L487.7 281.7L487.8 282.9L488.0 284.0L488.1 285.1L488.3 286.3L488.4 287.4L488.5 288.4L488.7 289.5L489.0 291.6L489.3 293.6L489.6 295.6L489.9 297.5L490.1 299.4L490.4 301.3L490.7 303.1L491.0 304.9L491.3 306.6L491.6 308.3L491.9 310.0L492.2 311.7L492.5 313.3L492.8 314.9L493.1 316.5L493.3 318.1L493.6 319.6L493.9 321.1L494.2 322.7L494.5 324.2L494.8 325.7L495.1 327.1L495.4 328.6L495.7 330.0L496.0 331.4L496.3 332.9L496.6 334.3L496.8 335.7L497.1 337.1L497.4 338.4L497.7 339.8L498.0 341.2L498.3 342.5L498.6 343.8L498.9 345.2L499.2 346.5L499.5 347.8L499.8 349.1L500.0 350.4L500.3 351.7L500.6 353.0L500.9 354.2L501.2 355.5L501.5 356.8L501.8 358.0L502.1 359.3L502.4 360.5L502.7 361.7L503.0 363.0L503.2 364.2L503.5 365.4L503.8 366.6L504.1 367.8L504.4 369.0L504.7 370.2L505.0 371.4L505.3 372.5L505.6 373.7L505.9 374.9L506.2 376.0L506.4 377.2L506.7 378.4L507.0 379.5L507.3 380.6L507.6 381.8L507.9 382.9L508.2 384.0L508.5 385.1L508.8 386.3L509.1 387.4L509.4 388.5L509.7 389.6L509.9 390.7L510.2 391.7L510.5 392.8L510.8 393.9L511.1 395.0L511.4 396.0L511.7 397.1L512.0 398.2L512.3 399.2L512.6 400.3L512.9 401.3L513.1 402.3L513.4 403.4L513.7 404.4L514.0 405.4L514.3 406.4L514.6 407.5L514.9 408.5L515.2 409.5L515.5 410.5L515.8 411.5L516.1 412.5L516.3 413.5L516.6 414.4L516.9 415.4L517.2 416.4L517.5 417.4L517.8 418.3L518.1 419.3L518.4 420.3L518.7 421.2L519.0 422.2L519.3 423.1L519.5 424.1L519.8 425.0L520.1 425.9L520.4 426.8L520.7 427.8L521.0 428.7L521.3 429.6L521.6 430.5L522.0 431.9L522.5 433.2L522.9 434.6L523.3 435.9L523.8 437.2L524.2 438.5L524.6 439.9L525.1 441.1L525.5 442.4L526.0 443.7L526.4 445.0L526.8 446.3L527.3 447.5L527.7 448.8L528.1 450.0L528.6 451.2L529.0 452.4L529.4 453.7L529.9 454.9L530.3 456.1L530.8 457.3L531.2 458.4L531.6 459.6L532.1 460.8L532.5 461.9L532.9 463.1L533.4 464.2L533.8 465.4L534.2 466.5L534.7 467.6L535.1 468.7L535.6 469.8L536.0 470.9L536.4 472.0L536.9 473.1L537.3 474.2L537.7 475.3L538.2 476.3L538.6 477.4L539.1 478.4L539.5 479.5L539.9 480.5L540.4 481.5L540.8 482.5L541.2 483.6L541.7 484.6L542.1 485.6L542.5 486.6L543.0 487.5L543.4 488.5L543.9 489.5L544.3 490.5L544.7 491.4L545.2 492.4L545.6 493.3L546.0 494.3L546.5 495.2L546.9 496.1L547.3 497.1L547.8 498.0L548.2 498.9L548.7 499.8L549.1 500.7L549.5 501.6L550.0 502.5L550.4 503.4L550.8 504.2L551.3 505.1L551.7 506.0L552.2 506.8L552.6 507.7L553.0 508.5L553.5 509.4L553.9 510.2L554.3 511.0L554.8 511.8L555.2 512.7L555.6 513.5L556.1 514.3L556.5 515.1L557.0 515.9L557.4 516.7L557.8 517.5L558.3 518.3L558.7 519.0L559.1 519.8L559.6 520.6L560.2 521.6L560.7 522.6L561.3 523.6L561.9 524.6L562.5 525.6L563.1 526.5L563.7 527.5L564.2 528.4L564.8 529.4L565.4 530.3L566.0 531.2L566.6 532.2L567.1 533.1L567.7 534.0L568.3 534.9L568.9 535.8L569.5 536.6L570.1 537.5L570.6 538.4L571.2 539.2L571.8 540.1L572.4 540.9L573.0 541.8L573.5 542.6L574.1 543.4L574.7 544.2L575.3 545.0L575.9 545.8L576.5 546.6L577.0 547.4L577.6 548.2L578.2 549.0L578.8 549.7L579.4 550.5L580.0 551.2L580.5 552.0L581.1 552.7L581.7 553.5L582.3 554.2L582.9 554.9L583.4 555.6L584.0 556.3L584.6 557.0L585.2 557.7L585.8 558.4L586.4 559.1L586.9 559.8L587.5 560.4L588.1 561.1L588.7 561.8L589.3 562.4L589.9 563.1L590.4 563.7L591.0 564.3L591.6 565.0L592.2 565.6L592.8 566.2L593.5 567.0L594.2 567.7L594.9 568.5L595.7 569.2L596.4 570.0L597.1 570.7L597.9 571.4L598.6 572.1L599.3 572.8L600.0 573.5L600.8 574.2L601.5 574.9L602.2 575.6L603.0 576.2L603.7 576.9L604.4 577.5L605.1 578.2L605.9 578.8L606.6 579.4L607.3 580.1L608.0 580.7L608.8 581.3L609.5 581.9L610.2 582.5L611.0 583.1L611.7 583.7L612.4 584.2L613.1 584.8L613.9 585.4L614.6 585.9L615.3 586.5L616.1 587.0L616.8 587.6L617.5 588.1L618.2 588.7L619.0 589.2L619.7 589.7L620.4 590.2L621.1 590.7L621.9 591.2L622.6 591.7L623.3 592.2L624.1 592.7L624.8 593.2L625.5 593.7L626.4 594.2L627.3 594.8L628.1 595.3L629.0 595.9L629.9 596.4L630.8 596.9L631.6 597.5L632.5 598.0L633.4 598.5L634.2 599.0L635.1 599.5L636.0 600.0L636.9 600.5L637.7 600.9L638.6 601.4L639.5 601.9L640.4 602.3L641.2 602.8L642.1 603.2L643.0 603.7L643.9 604.1L644.1 591.3L644.3 578.5L644.4 565.6L644.6 552.8L644.7 539.9L644.9 528.2L645.0 516.4L645.2 504.7L645.3 492.9L645.5 481.2L645.6 470.3L645.7 459.5L645.9 448.8L646.0 438.3L646.2 427.9L646.3 418.2L646.5 408.5L646.6 398.9L646.8 389.3L646.9 379.7L647.1 370.3L647.2 360.9L647.3 351.5L647.5 342.0L647.6 332.2L647.8 322.5L647.9 312.9L648.1 303.2L648.2 293.6L648.4 284.0L648.5 274.4L648.7 264.8L648.8 255.3L648.9 245.7L649.1 236.2L649.2 226.8L649.4 217.4L649.5 208.1L649.7 198.9L649.8 189.9L650.0 181.0L650.1 172.2L650.3 163.8L650.4 155.6L650.5 147.7L650.7 140.2L650.8 133.2L651.0 126.5L651.1 120.4L651.3 114.9L651.4 109.9L651.6 105.6M651.6 105.6L651.7 101.9L651.9 98.9L652.0 96.6L652.1 95.0L652.4 93.8L652.7 95.3L652.9 97.0L653.0 99.3L653.2 102.1L653.3 105.3L653.5 109.0L653.6 113.1L653.8 117.5L653.9 122.2L654.0 127.1L654.2 132.1L654.3 137.3L654.5 142.5L654.6 147.8L654.8 153.0L654.9 158.2L655.1 163.4L655.2 168.4L655.4 173.3L655.5 178.0L655.6 182.6L655.8 187.1L655.9 191.4L656.1 195.5L656.2 199.4L656.4 203.2L656.5 206.8L656.7 210.2L656.8 213.5L657.0 216.7L657.1 219.7L657.2 222.5L657.4 225.3L657.5 227.9L657.7 230.4L657.8 232.8L658.0 235.1L658.1 237.3L658.3 239.5L658.4 241.5L658.6 243.5L658.7 245.5L658.8 247.3L659.0 249.2L659.1 250.9L659.3 252.7L659.4 254.3L659.6 256.0L659.7 257.6L659.9 259.1L660.0 260.6L660.2 262.1L660.3 263.6L660.4 265.0L660.6 266.4L660.7 267.8L660.9 269.2L661.0 270.5L661.2 271.8L661.3 273.1L661.5 274.3L661.6 275.6L661.8 276.9L661.9 278.1L662.0 279.3L662.2 280.5L662.3 281.6L662.5 282.8L662.6 283.9L662.8 285.0L662.9 286.2L663.1 287.2L663.2 288.3L663.5 290.4L663.8 292.4L664.1 294.4L664.4 296.4L664.7 298.3L665.0 300.1L665.2 302.0L665.5 303.7L665.8 305.5L666.1 307.2L666.4 308.9L666.7 310.5L667.0 312.2L667.3 313.8L667.6 315.3L667.9 316.9L668.2 318.5L668.5 320.0L668.7 321.5L669.0 323.0L669.3 324.5L669.6 325.9L669.9 327.4L670.2 328.8L670.5 330.3L670.8 331.7L671.1 333.1L671.4 334.5L671.7 335.9L671.9 337.2L672.2 338.6L672.5 339.9L672.8 341.3L673.1 342.6L673.4 343.9L673.7 345.2L674.0 346.6L674.3 347.8L674.6 349.1L674.9 350.4L675.1 351.7L675.4 353.0L675.7 354.2L676.0 355.5L676.3 356.7L676.6 358.0L676.9 359.2L677.2 360.4L677.5 361.7L677.8 362.9L678.1 364.1L678.3 365.3L678.6 366.5L678.9 367.7L679.2 368.8L679.5 370.0L679.8 371.2L680.1 372.4L680.4 373.5L680.7 374.7L681.0 375.8L681.3 377.0L681.6 378.1L681.8 379.2L682.1 380.4L682.4 381.5L682.7 382.6L683.0 383.7L683.3 384.8L683.6 385.9L683.9 387.0L684.2 388.1L684.5 389.2L684.8 390.3L685.0 391.4L685.3 392.4L685.6 393.5L685.9 394.6L686.2 395.6L686.5 396.7L686.8 397.7L687.1 398.8L687.4 399.8L687.7 400.8L688.0 401.9L688.2 402.9L688.5 403.9L688.8 404.9L689.1 406.0L689.4 407.0L689.7 408.0L690.0 409.0L690.3 409.9L690.6 410.9L690.9 411.9L691.2 412.9L691.4 413.9L691.7 414.8L692.0 415.8L692.3 416.8L692.6 417.7L692.9 418.7L693.2 419.6L693.5 420.6L693.8 421.5L694.1 422.5L694.4 423.4L694.7 424.3L694.9 425.2L695.2 426.2L695.5 427.1L695.8 428.0L696.3 429.4L696.7 430.7L697.1 432.0L697.6 433.4L698.0 434.7L698.4 436.0L698.9 437.3L699.3 438.6L699.7 439.9L700.2 441.2L700.6 442.5L701.1 443.7L701.5 445.0L701.9 446.2L702.4 447.5L702.8 448.7L703.2 449.9L703.7 451.1L704.1 452.3L704.5 453.5L705.0 454.7L705.4 455.9L705.9 457.1L706.3 458.3L706.7 459.4L707.2 460.6L707.6 461.7L708.0 462.9L708.5 464.0L708.9 465.1L709.4 466.2L709.8 467.3L710.2 468.4L710.7 469.5L711.1 470.6L711.5 471.7L712.0 472.7L712.4 473.8L712.8 474.9L713.3 475.9L713.7 477.0L714.2 478.0L714.6 479.0L715.0 480.0L715.5 481.1L715.9 482.1L716.3 483.1L716.8 484.1L717.2 485.0L717.6 486.0L718.1 487.0L718.5 488.0L719.0 488.9L719.4 489.9L719.8 490.8L720.3 491.8L720.7 492.7L721.1 493.7L721.6 494.6L722.0 495.5L722.5 496.4L722.9 497.3L723.3 498.2L723.8 499.1L724.2 500.0L724.6 500.9L725.1 501.8L725.5 502.6L725.9 503.5L726.4 504.4L726.8 505.2L727.3 506.1L727.7 506.9L728.1 507.7L728.6 508.6L729.0 509.4L729.4 510.2L729.9 511.0L730.3 511.8L730.7 512.6L731.2 513.4L731.6 514.2L732.1 515.0L732.5 515.8L732.9 516.6L733.4 517.4L733.8 518.1L734.2 518.9L734.8 519.9L735.4 520.9L736.0 521.9L736.6 522.9L737.2 523.8L737.7 524.8L738.3 525.8L738.9 526.7L739.5 527.7L740.1 528.6L740.6 529.5L741.2 530.4L741.8 531.3L742.4 532.2L743.0 533.1L743.6 534.0L744.1 534.9L744.7 535.8L745.3 536.6L745.9 537.5L746.5 538.3L747.1 539.2L747.6 540.0L748.2 540.8L748.8 541.6L749.4 542.4L750.0 543.2L750.5 544.0L751.1 544.8L751.7 545.6L752.3 546.3L752.9 547.1L753.5 547.8L754.0 548.6L754.6 549.3L755.2 550.1L755.8 550.8L756.4 551.5L756.9 552.2L757.5 552.9L758.1 553.6L758.7 554.3L759.3 555.0L759.9 555.7L760.4 556.3L761.0 557.0L761.6 557.7L762.2 558.3L762.8 559.0L763.4 559.6L763.9 560.2L764.5 560.9L765.1 561.5L765.7 562.1L766.4 562.9L767.1 563.6L767.9 564.4L768.6 565.1L769.3 565.8L770.0 566.6L770.8 567.3L771.5 568.0L772.2 568.7L773.0 569.4L773.7 570.0L774.4 570.7L775.1 571.4L775.9 572.0L776.6 572.7L777.3 573.3L778.1 573.9L778.8 574.6L779.5 575.2L780.2 575.8L781.0 576.4L781.7 577.0L782.4 577.6L783.1 578.2L783.9 578.7L784.6 579.3L785.3 579.9L786.1 580.4L786.8 581.0L787.5 581.5L788.2 582.1L789.0 582.6L789.7 583.1L790.4 583.6L791.2 584.2L791.9 584.7L792.6 585.2L793.3 585.6L794.1 586.1L794.8 586.6L795.5 587.1L796.4 587.7L797.3 588.2L798.1 588.8L799.0 589.3L799.9 589.8L800.8 590.4L801.6 590.9L802.5 591.4L803.4 591.9L804.3 592.4L805.1 592.9L806.0 593.4L806.9 593.8L807.7 594.3L808.6 594.8L809.5 595.2L810.4 595.7L811.2 596.1L812.1 596.5L813.0 597.0L813.9 597.4L814.7 597.8L815.6 598.2L816.5 598.6L817.4 599.0L818.2 599.4L818.8 586.7L819.0 573.8L819.1 560.8L819.2 547.9L819.4 535.0L819.5 523.2L819.7 511.4L819.8 499.6L820.0 487.8L820.1 476.0L820.3 465.0L820.4 454.2L820.6 443.4L820.7 432.8L820.8 422.4L821.0 412.6L821.1 402.9L821.3 393.2L821.4 383.6L821.6 373.9L821.7 364.5L821.9 355.0L822.0 345.5L822.2 336.0L822.3 326.2L822.4 316.4L822.6 306.7L822.7 297.0L822.9 287.3L823.0 277.6L823.2 267.9L823.3 258.3L823.5 248.7L823.6 239.1L823.8 229.5L823.9 220.0L824.0 210.6L824.2 201.2L824.3 191.9L824.5 182.8L824.6 173.8L824.8 165.1L824.9 156.5L825.1 148.3L825.2 140.4L825.4 132.8L825.5 125.7L825.7 119.0L825.8 112.9L825.9 107.3L826.1 102.4L826.2 98.0M826.2 98.0L826.4 94.4L826.5 91.4L826.7 89.1L826.8 87.6L827.1 86.5L827.4 88.2L827.5 90.0L827.7 92.4L827.8 95.3L828.0 98.7L828.1 102.6L828.3 106.8L828.4 111.4L828.6 116.2L828.7 121.2L828.9 126.4L829.0 131.7L829.1 137.1L829.3 142.5L829.4 147.9L829.6 153.3L829.7 158.5L829.9 163.7L830.0 168.7L830.2 173.6L830.3 178.3L830.5 182.9L830.6 187.3L830.7 191.5L830.9 195.5L831.0 199.4L831.2 203.1L831.3 206.6L831.5 210.0L831.6 213.2L831.8 216.3L831.9 219.2L832.1 222.0L832.2 224.7L832.3 227.3L832.5 229.7L832.6 232.1L832.8 234.4L832.9 236.6L833.1 238.7L833.2 240.7L833.4 242.7L833.5 244.6L833.7 246.5L833.8 248.3L833.9 250.0L834.1 251.7L834.2 253.4L834.4 255.0L834.5 256.6L834.7 258.2L834.8 259.7L835.0 261.2L835.1 262.6L835.3 264.0L835.4 265.4L835.5 266.8L835.7 268.2L835.8 269.5L836.0 270.8L836.1 272.1L836.3 273.4L836.4 274.6L836.6 275.9L836.7 277.1L836.9 278.3L837.0 279.5L837.1 280.6L837.3 281.8L837.4 282.9L837.6 284.0L837.7 285.1L837.9 286.2L838.0 287.3L838.2 288.3L838.5 290.4L838.8 292.4L839.0 294.4L839.3 296.3L839.6 298.1L839.9 300.0L840.2 301.8L840.5 303.6L840.8 305.3L841.1 306.9L841.4 308.6L841.7 310.2L842.0 311.9L842.2 313.4L842.5 315.0L842.8 316.6L843.1 318.1L843.4 319.6L843.7 321.1L844.0 322.6L844.3 324.1L844.6 325.5L844.9 327.0L845.2 328.4L845.4 329.8L845.7 331.2L846.0 332.6L846.3 334.0L846.6 335.3L846.9 336.7L847.2 338.1L847.5 339.4L847.8 340.7L848.1 342.1L848.4 343.4L848.6 344.7L848.9 346.0L849.2 347.3L849.5 348.5L849.8 349.8L850.1 351.1L850.4 352.4L850.7 353.6L851.0 354.9L851.3 356.1L851.6 357.3L851.9 358.5L852.1 359.8L852.4 361.0L852.7 362.2L853.0 363.4L853.3 364.6L853.6 365.8L853.9 367.0L854.2 368.1L854.5 369.3L854.8 370.5L855.1 371.6L855.3 372.8L855.6 373.9L855.9 375.1L856.2 376.2L856.5 377.4L856.8 378.5L857.1 379.6L857.4 380.7L857.7 381.8L858.0 382.9L858.3 384.0L858.5 385.1L858.8 386.2L859.1 387.3L859.4 388.4L859.7 389.5L860.0 390.5L860.3 391.6L860.6 392.7L860.9 393.7L861.2 394.8L861.5 395.8L861.7 396.9L862.0 397.9L862.3 398.9L862.6 400.0L862.9 401.0L863.2 402.0L863.5 403.0L863.8 404.0L864.1 405.0L864.4 406.0L864.7 407.0L865.0 408.0L865.2 409.0L865.5 410.0L865.8 411.0L866.1 412.0L866.4 412.9L866.7 413.9L867.0 414.9L867.3 415.8L867.6 416.8L867.9 417.7L868.2 418.7L868.4 419.6L868.7 420.5L869.0 421.5L869.3 422.4L869.6 423.3L869.9 424.2L870.2 425.2L870.5 426.1L870.9 427.4L871.4 428.8L871.8 430.1L872.2 431.5L872.7 432.8L873.1 434.1L873.5 435.4L874.0 436.7L874.4 438.0L874.8 439.3L875.3 440.5L875.7 441.8L876.2 443.1L876.6 444.3L877.0 445.5L877.5 446.8L877.9 448.0L878.3 449.2L878.8 450.4L879.2 451.6L879.7 452.8L880.1 454.0L880.5 455.2L881.0 456.3L881.4 457.5L881.8 458.6L882.3 459.8L882.7 460.9L883.1 462.1L883.6 463.2L884.0 464.3L884.5 465.4L884.9 466.5L885.3 467.6L885.8 468.7L886.2 469.7L886.6 470.8L887.1 471.9L887.5 472.9L887.9 474.0L888.4 475.0L888.8 476.1L889.3 477.1L889.7 478.1L890.1 479.1L890.6 480.1L891.0 481.1L891.4 482.1L891.9 483.1L892.3 484.1L892.8 485.1L893.2 486.0L893.6 487.0L894.1 488.0L894.5 488.9L894.9 489.9L895.4 490.8L895.8 491.7L896.2 492.6L896.7 493.6L897.1 494.5L897.6 495.4L898.0 496.3L898.4 497.2L898.9 498.1L899.3 499.0L899.7 499.8L900.2 500.7L900.6 501.6L901.0 502.4L901.5 503.3L901.9 504.1L902.4 505.0L902.8 505.8L903.2 506.6L903.7 507.5L904.1 508.3L904.5 509.1L905.0 509.9L905.4 510.7L905.9 511.5L906.3 512.3L906.7 513.1L907.2 513.9L907.6 514.7L908.0 515.4L908.5 516.2L908.9 517.0L909.5 518.0L910.1 519.0L910.7 520.0L911.2 521.0L911.8 521.9L912.4 522.9L913.0 523.9L913.6 524.8L914.1 525.8L914.7 526.7L915.3 527.6L915.9 528.5L916.5 529.4L917.1 530.4L917.6 531.2L918.2 532.1L918.8 533.0L919.4 533.9L920.0 534.7L920.6 535.6L921.1 536.4L921.7 537.3L922.3 538.1L922.9 538.9L923.5 539.8L924.0 540.6L924.6 541.4L925.2 542.2L925.8 543.0L926.4 543.8L927.0 544.5L927.5 545.3L928.1 546.1L928.7 546.8L929.3 547.6L929.9 548.3L930.5 549.1L931.0 549.8L931.6 550.5L932.2 551.2L932.8 551.9L933.4 552.6L933.9 553.3L934.5 554.0L935.1 554.7L935.7 555.4L936.3 556.1L936.9 556.8L937.4 557.4L938.0 558.1L938.6 558.7L939.2 559.4L939.8 560.0L940.3 560.7L940.9 561.3L941.5 561.9L942.1 562.5L942.8 563.3L943.6 564.1L944.3 564.8L945.0 565.6L945.7 566.3L946.5 567.0L947.2 567.7L947.9 568.4L948.6 569.2L949.4 569.8L950.1 570.5L950.8 571.2L951.6 571.9L952.3 572.6L953.0 573.2L953.7 573.9L954.5 574.5L955.2 575.2L955.9 575.8L956.7 576.4L957.4 577.0L958.1 577.6L958.8 578.3L959.6 578.9L960.3 579.4L961.0 580.0L961.7 580.6L962.5 581.2L963.2 581.8L963.9 582.3L964.7 582.9L965.4 583.4L966.1 584.0L966.8 584.5L967.6 585.0L968.3 585.6L969.0 586.1L969.8 586.6L970.5 587.1L971.2 587.6L971.9 588.1L972.7 588.6L973.4 589.1L974.1 589.6L974.8 590.1L975.6 590.5L976.4 591.1L977.3 591.7L978.2 592.2L979.1 592.7L979.9 593.3L980.8 593.8L981.7 594.3L982.6 594.8L983.4 595.4L984.3 595.9L985.2 596.4L986.1 596.8L986.9 597.3L987.8 597.8L988.7 598.3L989.5 598.7L990.4 599.2L991.3 599.7L992.2 600.1L993.0 600.5L993.9 601.0L994.8 601.4L995.7 601.8L996.5 602.3L997.4 602.7L998.3 603.1L999.2 603.5L1000.0 603.9L1000.9 604.3L1001.8 604.7L1002.6 605.1L1003.5 605.5L1004.4 605.8L1005.3 606.2L1006.1 606.6L1007.0 606.9L1007.9 607.3L1008.8 607.6L1009.6 608.0L1010.5 608.3L1011.4 608.7L1012.3 609.0L1013.1 609.4L1014.0 609.7L1015.0 610.1L1016.0 610.4L1017.1 610.8L1018.1 611.2L1019.1 611.5L1020.1 611.9L1021.1 612.2L1022.1 612.6L1023.2 612.9L1024.2 613.2L1025.2 613.6L1026.2 613.9L1027.2 614.2L1028.3 614.5L1029.3 614.8L1030.3 615.2L1031.3 615.5L1032.3 615.8L1033.4 616.0L1034.4 616.3L1035.4 616.6L1036.4 616.9L1037.4 617.2L1038.5 617.5L1039.5 617.7L1040.5 618.0L1041.5 618.3L1042.5 618.5L1043.5 618.8L1044.6 619.0L1045.6 619.3L1046.6 619.5L1047.6 619.8L1048.6 620.0L1049.7 620.2L1050.7 620.5L1051.7 620.7L1052.7 620.9L1053.7 621.2L1054.8 621.4L1055.8 621.6L1056.8 621.8L1057.8 622.0L1058.8 622.2L1059.8 622.4L1060.9 622.7L1061.9 622.9L1062.9 623.1L1063.9 623.2L1064.9 623.4L1066.0 623.6L1067.0 623.8L1068.0 624.0L1069.0 624.2L1070.0 624.4L1071.2 624.6L1072.4 624.8L1073.5 625.0L1074.7 625.2L1075.9 625.4L1077.0 625.6L1078.2 625.7L1079.4 625.9L1080.5 626.1L1081.7 626.3L1082.8 626.5L1084.0 626.6L1085.2 626.8L1086.3 627.0L1087.5 627.2L1088.7 627.3L1089.8 627.5L1091.0 627.6L1092.2 627.8L1093.3 628.0L1094.5 628.1L1095.7 628.3L1096.8 628.4L1098.0 628.6L1099.1 628.7L1100.3 628.8L1101.5 629.0L1102.6 629.1L1103.8 629.3L1105.0 629.4L1106.1 629.5L1107.3 629.7L1108.5 629.8L1109.6 629.9L1110.8 630.1L1112.0 630.2L1113.1 630.3L1114.3 630.4L1115.5 630.5L1116.6 630.7L1117.8 630.8L1118.9 630.9L1120.1 631.0L1121.3 631.1L1122.4 631.2L1123.6 631.3L1124.8 631.5L1125.9 631.6L1127.1 631.7L1128.3 631.8L1129.4 631.9L1130.6 632.0L1131.8 632.1L1132.9 632.2L1134.1 632.3L1135.2 632.4L1136.4 632.5L1137.6 632.6L1138.7 632.7L1139.9 632.8L1141.1 632.8L1142.2 632.9L1143.4 633.0L1144.6 633.1L1145.7 633.2L1146.9 633.3L1148.1 633.4L1149.2 633.5L1150.4 633.5L1151.5 633.6L1152.7 633.7L1153.9 633.8L1155.0 633.9L1156.2 633.9L1157.4 634.0L1158.5 634.1L1159.7 634.2L1160.9 634.2L1162.0 634.3L1163.2 634.4L1164.4 634.5L1165.5 634.5L1166.7 634.6L1167.9 634.7L1168.0 634.7" fill="none" stroke="#808080" stroke-width="3.9" stroke-linecap="round" stroke-linejoin="round" stroke-dasharray="26 17"/>
<path d="M902.5 86.7H972.5" stroke="#000" stroke-width="3.85"/>
<path d="M902.9 157.8H920.4M944.6 157.8H962.1" stroke="#000" stroke-width="5.8" stroke-linecap="round"/>
<path d="M904 229.2H967.1" stroke="#000" stroke-width="3.7" stroke-linecap="round" stroke-dasharray="0 7.875"/>
<path d="M904.5 299.5H931.2M947.7 299.5H970.6" stroke="#808080" stroke-width="3.9" stroke-linecap="round"/>
<text x="981.0" y="96.3" class="lg" textLength="104.0" lengthAdjust="spacing">Volunteer</text>
<text x="981.7" y="167.0" class="lg" textLength="94.6" lengthAdjust="spacing">Pregnant</text>
<text x="981.3" y="236.8" class="lg" textLength="198.7" lengthAdjust="spacing">Abdominal surgery</text>
<text x="981.4" y="307.5" class="lg" textLength="216.1" lengthAdjust="spacing">Orthopaedic surgery</text>
<text x="547" y="738" class="at" textLength="194" lengthAdjust="spacingAndGlyphs">Time (hours)</text>
<text transform="translate(29 497) rotate(-90)" x="0" y="0" class="at" textLength="319" lengthAdjust="spacingAndGlyphs">Concentration (mg/L)</text>
</svg>
</body></html>
